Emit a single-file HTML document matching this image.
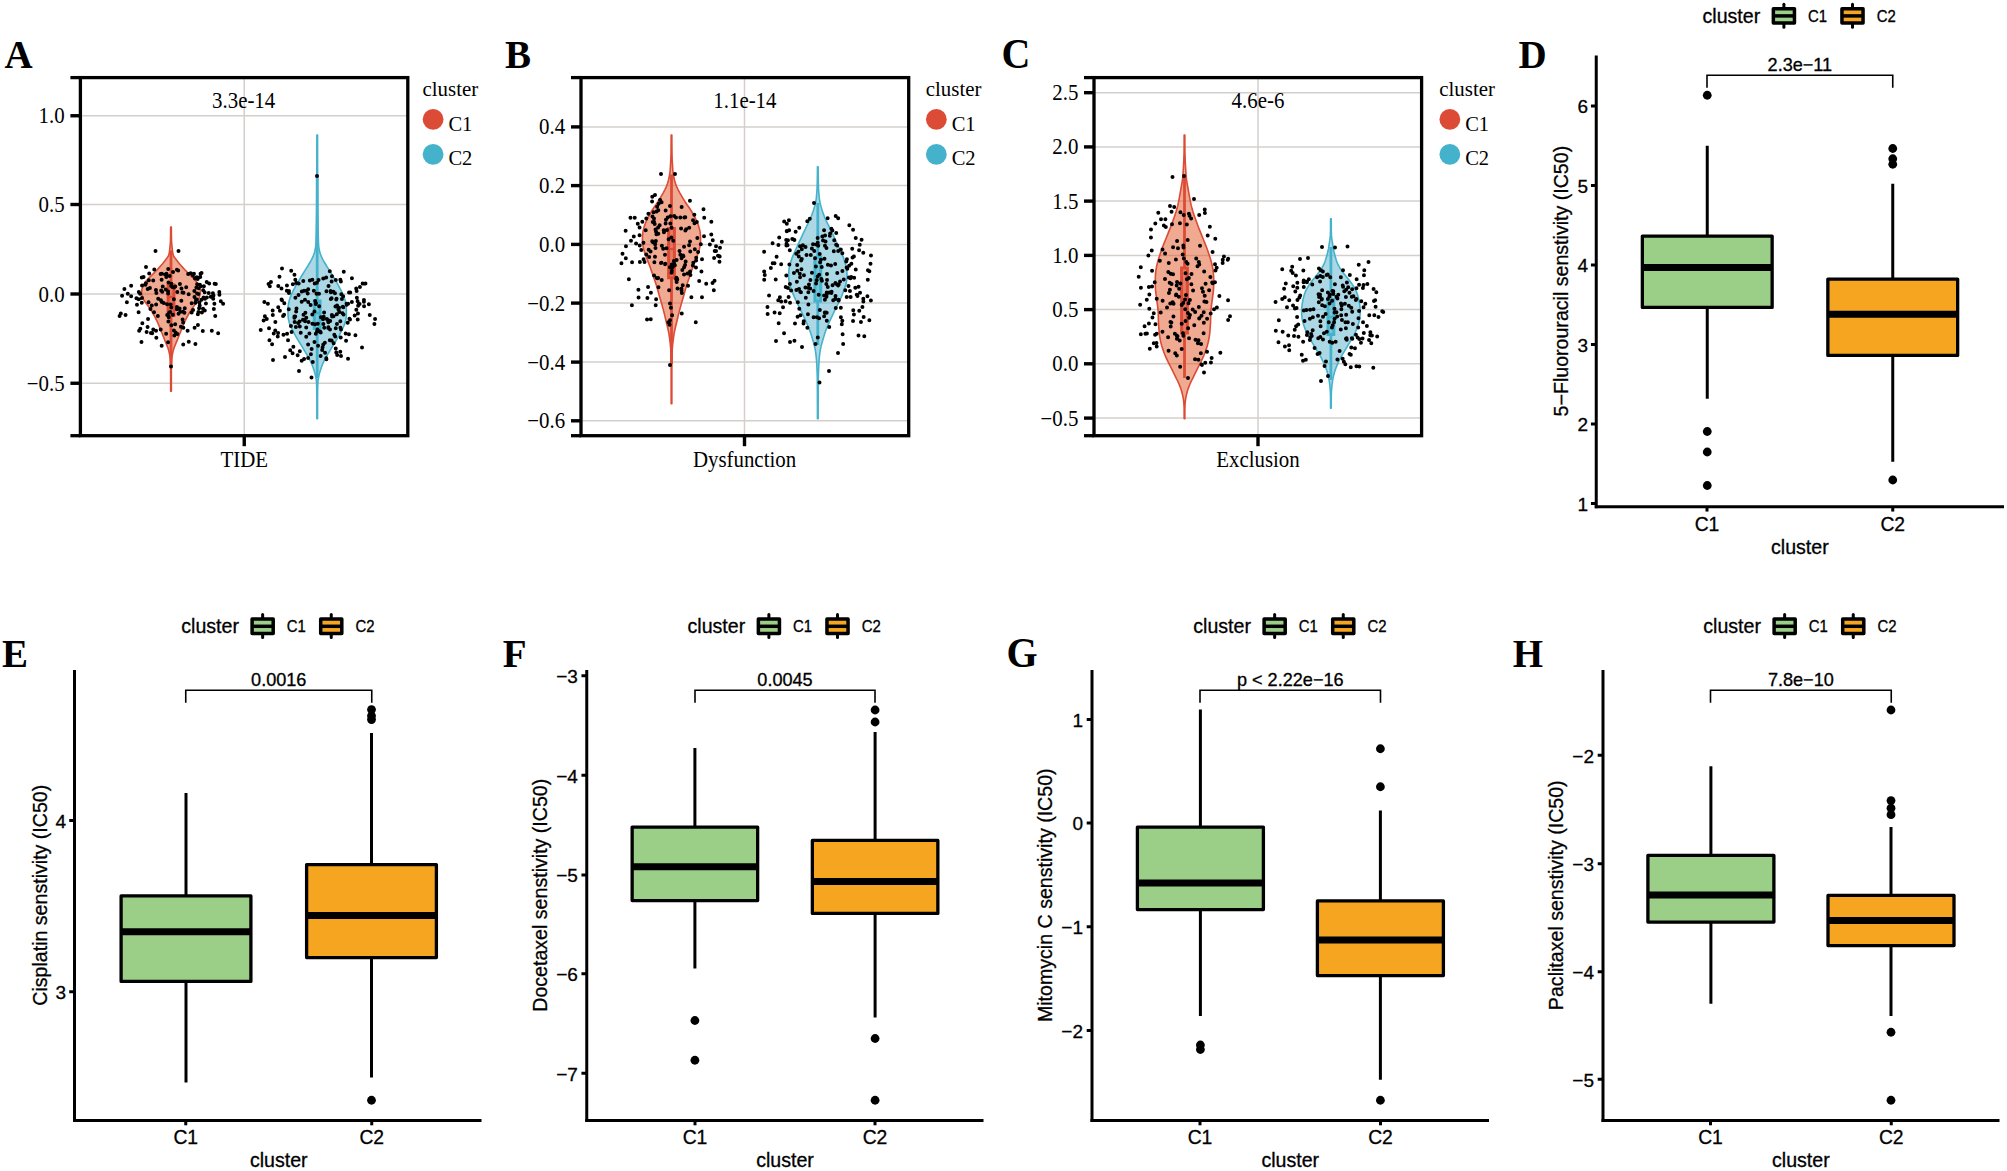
<!DOCTYPE html>
<html lang="en"><head><meta charset="utf-8"><title>Figure</title>
<style>
html,body{margin:0;padding:0;background:#fff;}
body{width:2007px;height:1171px;overflow:hidden;}
svg{display:block;}
.sf{font-family:"Liberation Serif","Times New Roman",Times,serif;fill:#000;}
.ss{font-family:"Liberation Sans",Arial,Helvetica,sans-serif;fill:#000;stroke:#000;stroke-width:0.3px;}
</style></head><body>
<svg width="2007" height="1171" viewBox="0 0 2007 1171">
<rect width="2007" height="1171" fill="#fff"/>
<line x1="80.4" y1="115.75" x2="407.8" y2="115.75" stroke="#D4CFCB" stroke-width="1.5" stroke-linecap="butt" />
<line x1="80.4" y1="204.5" x2="407.8" y2="204.5" stroke="#D4CFCB" stroke-width="1.5" stroke-linecap="butt" />
<line x1="80.4" y1="294" x2="407.8" y2="294" stroke="#D4CFCB" stroke-width="1.5" stroke-linecap="butt" />
<line x1="80.4" y1="383.25" x2="407.8" y2="383.25" stroke="#D4CFCB" stroke-width="1.5" stroke-linecap="butt" />
<line x1="244.25" y1="77.6" x2="244.25" y2="435.7" stroke="#D4CFCB" stroke-width="1.5" stroke-linecap="butt" />
<path d="M170.65,227 L170.65,228.85 L170.64,230.69 L170.62,232.54 L170.6,234.38 L170.57,236.23 L170.54,238.07 L170.5,239.92 L170.43,241.76 L170.3,243.61 L170.12,245.46 L169.93,247.3 L169.73,249.15 L169.53,250.99 L169.27,252.84 L168.9,254.68 L168.11,256.53 L166.8,258.37 L165.32,260.22 L163.91,262.06 L162.39,263.91 L160.79,265.76 L159.14,267.6 L157.43,269.45 L155.66,271.29 L153.86,273.14 L151.99,274.98 L150.04,276.83 L148.21,278.67 L146.63,280.52 L145.12,282.37 L143.82,284.21 L142.95,286.06 L142.34,287.9 L141.86,289.75 L141.61,291.59 L141.69,293.44 L142.06,295.28 L142.61,297.13 L143.27,298.97 L144.34,300.82 L145.69,302.67 L147.04,304.51 L148.32,306.36 L149.65,308.2 L150.92,310.05 L152.07,311.89 L153.13,313.74 L154.15,315.58 L155.13,317.43 L156.08,319.28 L156.99,321.12 L157.85,322.97 L158.64,324.81 L159.38,326.66 L160.1,328.5 L160.84,330.35 L161.59,332.19 L162.33,334.04 L163.07,335.88 L163.81,337.73 L164.54,339.58 L165.27,341.42 L166.03,343.27 L166.82,345.11 L167.57,346.96 L168.19,348.8 L168.72,350.65 L169.19,352.49 L169.57,354.34 L169.89,356.19 L170.17,358.03 L170.36,359.88 L170.43,361.72 L170.49,363.57 L170.54,365.41 L170.58,367.26 L170.61,369.1 L170.63,370.95 L170.64,372.79 L170.65,374.64 L170.65,376.49 L170.65,378.33 L170.65,380.18 L170.65,382.02 L170.65,383.87 L170.65,385.71 L170.65,387.56 L170.65,389.4 L170.65,391.25 L171.35,391.25 L171.35,389.4 L171.35,387.56 L171.35,385.71 L171.35,383.87 L171.35,382.02 L171.35,380.18 L171.35,378.33 L171.35,376.49 L171.35,374.64 L171.36,372.79 L171.37,370.95 L171.39,369.1 L171.42,367.26 L171.46,365.41 L171.51,363.57 L171.57,361.72 L171.64,359.88 L171.83,358.03 L172.11,356.19 L172.43,354.34 L172.81,352.49 L173.28,350.65 L173.81,348.8 L174.43,346.96 L175.18,345.11 L175.97,343.27 L176.73,341.42 L177.46,339.58 L178.19,337.73 L178.93,335.88 L179.67,334.04 L180.41,332.19 L181.16,330.35 L181.9,328.5 L182.62,326.66 L183.36,324.81 L184.15,322.97 L185.01,321.12 L185.92,319.28 L186.87,317.43 L187.85,315.58 L188.87,313.74 L189.93,311.89 L191.08,310.05 L192.35,308.2 L193.68,306.36 L194.96,304.51 L196.31,302.67 L197.66,300.82 L198.73,298.97 L199.39,297.13 L199.94,295.28 L200.31,293.44 L200.39,291.59 L200.14,289.75 L199.66,287.9 L199.05,286.06 L198.18,284.21 L196.88,282.37 L195.37,280.52 L193.79,278.67 L191.96,276.83 L190.01,274.98 L188.14,273.14 L186.34,271.29 L184.57,269.45 L182.86,267.6 L181.21,265.76 L179.61,263.91 L178.09,262.06 L176.68,260.22 L175.2,258.37 L173.89,256.53 L173.1,254.68 L172.73,252.84 L172.47,250.99 L172.27,249.15 L172.07,247.3 L171.88,245.46 L171.7,243.61 L171.57,241.76 L171.5,239.92 L171.46,238.07 L171.43,236.23 L171.4,234.38 L171.38,232.54 L171.36,230.69 L171.35,228.85 L171.35,227Z" fill="#E35525" fill-opacity="0.5" stroke="#DC4B35" stroke-width="1.6" stroke-linejoin="round"/>
<line x1="171" y1="250.5" x2="171" y2="285" stroke="#DC4B35" stroke-width="2.8" stroke-linecap="butt" />
<line x1="171" y1="315.5" x2="171" y2="366.5" stroke="#DC4B35" stroke-width="2.8" stroke-linecap="butt" />
<rect x="168.1" y="285" width="5.8" height="30.5" fill="#DC4B35" fill-opacity="0.5" stroke="#DC4B35" stroke-width="3"/>
<line x1="168.1" y1="297" x2="173.9" y2="297" stroke="#DC4B35" stroke-width="2.4" stroke-linecap="butt" />
<path d="M316.85,135 L316.85,138.19 L316.85,141.38 L316.85,144.56 L316.84,147.75 L316.84,150.94 L316.84,154.13 L316.83,157.32 L316.83,160.51 L316.82,163.69 L316.81,166.88 L316.8,170.07 L316.8,173.26 L316.79,176.45 L316.78,179.63 L316.77,182.82 L316.76,186.01 L316.74,189.2 L316.73,192.39 L316.72,195.58 L316.71,198.76 L316.69,201.95 L316.67,205.14 L316.64,208.33 L316.6,211.52 L316.56,214.71 L316.51,217.89 L316.45,221.08 L316.39,224.27 L316.32,227.46 L316.25,230.65 L316.17,233.83 L316.08,237.02 L315.99,240.21 L315.87,243.4 L315.67,246.59 L315.15,249.78 L314.37,252.96 L313.18,256.15 L311.69,259.34 L309.92,262.53 L308,265.72 L305.96,268.9 L303.96,272.09 L302.06,275.28 L300.14,278.47 L298.16,281.66 L296.29,284.85 L294.55,288.03 L292.95,291.22 L291.48,294.41 L290.23,297.6 L289.15,300.79 L288.5,303.97 L288.06,307.16 L288,310.35 L288,313.54 L288.11,316.73 L288.59,319.92 L289.38,323.1 L290.67,326.29 L292.1,329.48 L293.75,332.67 L295.53,335.86 L297.45,339.04 L299.38,342.23 L301.35,345.42 L303.26,348.61 L305.16,351.8 L307.14,354.99 L309.03,358.17 L310.58,361.36 L311.94,364.55 L313.16,367.74 L314.21,370.93 L315.12,374.12 L315.82,377.3 L316.34,380.49 L316.61,383.68 L316.69,386.87 L316.76,390.06 L316.81,393.24 L316.84,396.43 L316.85,399.62 L316.85,402.81 L316.85,406 L316.85,409.19 L316.85,412.37 L316.85,415.56 L316.85,418.75 L317.55,418.75 L317.55,415.56 L317.55,412.37 L317.55,409.19 L317.55,406 L317.55,402.81 L317.55,399.62 L317.56,396.43 L317.59,393.24 L317.64,390.06 L317.71,386.87 L317.79,383.68 L318.06,380.49 L318.58,377.3 L319.28,374.12 L320.19,370.93 L321.24,367.74 L322.46,364.55 L323.82,361.36 L325.37,358.17 L327.26,354.99 L329.24,351.8 L331.14,348.61 L333.05,345.42 L335.02,342.23 L336.95,339.04 L338.87,335.86 L340.65,332.67 L342.3,329.48 L343.73,326.29 L345.02,323.1 L345.81,319.92 L346.29,316.73 L346.4,313.54 L346.4,310.35 L346.34,307.16 L345.9,303.97 L345.25,300.79 L344.17,297.6 L342.92,294.41 L341.45,291.22 L339.85,288.03 L338.11,284.85 L336.24,281.66 L334.26,278.47 L332.34,275.28 L330.44,272.09 L328.44,268.9 L326.4,265.72 L324.48,262.53 L322.71,259.34 L321.22,256.15 L320.03,252.96 L319.25,249.78 L318.73,246.59 L318.53,243.4 L318.41,240.21 L318.32,237.02 L318.23,233.83 L318.15,230.65 L318.08,227.46 L318.01,224.27 L317.95,221.08 L317.89,217.89 L317.84,214.71 L317.8,211.52 L317.76,208.33 L317.73,205.14 L317.71,201.95 L317.69,198.76 L317.68,195.58 L317.67,192.39 L317.66,189.2 L317.64,186.01 L317.63,182.82 L317.62,179.63 L317.61,176.45 L317.6,173.26 L317.6,170.07 L317.59,166.88 L317.58,163.69 L317.57,160.51 L317.57,157.32 L317.56,154.13 L317.56,150.94 L317.56,147.75 L317.55,144.56 L317.55,141.38 L317.55,138.19 L317.55,135Z" fill="#59B1CD" fill-opacity="0.5" stroke="#45B2CC" stroke-width="1.6" stroke-linejoin="round"/>
<line x1="317.2" y1="176" x2="317.2" y2="301" stroke="#45B2CC" stroke-width="2.8" stroke-linecap="butt" />
<line x1="317.2" y1="328.5" x2="317.2" y2="378" stroke="#45B2CC" stroke-width="2.8" stroke-linecap="butt" />
<rect x="314.3" y="301" width="5.8" height="27.5" fill="#45B2CC" fill-opacity="0.5" stroke="#45B2CC" stroke-width="3"/>
<line x1="314.3" y1="313" x2="320.1" y2="313" stroke="#45B2CC" stroke-width="2.4" stroke-linecap="butt" />
<path d="M191.66,303.29h0M178.51,313.82h0M165.72,275.34h0M119.59,316.01h0M179.6,308.49h0M142.34,323.21h0M183.35,327.77h0M177.36,334.09h0M200.52,273.7h0M198.35,293.94h0M169.66,275.88h0M163.73,302.9h0M143.58,277.09h0M211.8,330.67h0M199.91,284.63h0M161.76,273.73h0M194.47,296.99h0M174.32,335.59h0M196.38,287.46h0M125.55,315.08h0M175.28,286.6h0M194.36,290.89h0M215.24,315.92h0M124.41,289h0M184.41,312.63h0M120.81,313.59h0M151.8,305.61h0M204.78,310.6h0M213.49,295.44h0M169.15,312.68h0M126.88,302.36h0M167.21,314.9h0M149.91,287.95h0M182.59,319.48h0M209.17,283.48h0M141.99,297.98h0M165.77,289.59h0M160.89,300.29h0M166.46,273.82h0M201.9,312.51h0M205.94,303.48h0M195.51,302.83h0M168.37,321.39h0M136.98,304.83h0M183.13,322.39h0M175.19,324.35h0M206.83,297.39h0M167.12,304.17h0M208.71,292.99h0M199.43,302.39h0M202.79,331.11h0M153.26,329.46h0M141.47,342.03h0M183,311.68h0M197.11,284.24h0M171.34,283.68h0M173.86,299.25h0M190.64,273.14h0M147.71,289h0M183.5,292.74h0M140.33,328.78h0M156.41,293.12h0M141.76,277.58h0M161.82,302.07h0M179.91,283.93h0M203.91,286.15h0M182.47,292.57h0M195.02,278.45h0M160.69,329.61h0M214.61,283.67h0M171.3,307.44h0M149.22,273.5h0M138.59,312.36h0M192.92,275.43h0M168.1,293.49h0M166.12,333.85h0M145.98,283.22h0M196.81,299.55h0M198.69,288.14h0M201.46,299.64h0M194.6,327.69h0M170.7,304.57h0M171.21,286.1h0M191.64,312.43h0M183.23,344.45h0M138.72,299.32h0M174.07,287.57h0M160.63,273.94h0M153.23,280.47h0M181.37,300.81h0M148.05,319.1h0M188.76,341.67h0M195.41,343.91h0M166.3,276.98h0M176.87,309.19h0M181.47,288.45h0M171.35,325.27h0M168.7,316.75h0M197.86,314.15h0M168.73,317.23h0M193.94,273.8h0M145.36,284.63h0M197.09,293.38h0M210.77,296.8h0M170.16,312.01h0M188.18,273.93h0M155.93,290.07h0M196.86,277.16h0M156.01,330.64h0M156.34,337.79h0M158.21,298.86h0M198.45,311.9h0M176.92,269.73h0M201.53,273h0M165.15,274.61h0M186.21,287.15h0M204.95,298.76h0M193.06,309.91h0M203.04,308.86h0M220.79,301.15h0M200.25,276.96h0M214.39,303.78h0M168.49,282.39h0M142.04,285.47h0M204.62,292.31h0M219.44,294.68h0M173.92,330.51h0M162.74,286.53h0M148.81,280.27h0M184.76,308.26h0M161.61,279.75h0M146.61,332.12h0M199.73,305.45h0M162.2,291.68h0M175.6,332.45h0M150.94,332.9h0M156.13,304.44h0M213.22,298.75h0M168.22,268.96h0M223.11,303.73h0M157.85,316.05h0M188.67,294.32h0M197.92,325.05h0M127.78,293.87h0M206.71,282.03h0M131.16,285.67h0M199.29,307.9h0M140.06,293.85h0M154.28,269.45h0M203.53,297.45h0M197.65,279.06h0M218.16,333.17h0M172.39,287.08h0M131.15,296.17h0M180.21,311.74h0M161.17,290.51h0M177.32,292h0M139.15,330.7h0M136.41,298.14h0M154.02,312.31h0M172.87,314.81h0M195.97,299.9h0M213.85,308.95h0M180.9,326.65h0M141.78,302.86h0M150.47,309.05h0M187.61,330.81h0M212.88,293.33h0M122.08,295.81h0M219.29,292.01h0M215.8,284.11h0M152.15,333.36h0M161.67,345.64h0M173.05,271.9h0M138.83,291.96h0M211.75,297.06h0M168.03,291.47h0M148.54,302.35h0M203.14,290.19h0M147.58,326.94h0M178.17,270.62h0M176.94,306.99h0M199.07,308.31h0M168.08,342.22h0M200.66,286.36h0M155.5,251h0M178.5,251h0M146,267h0M171,366.5h0" stroke="#000" stroke-width="4" stroke-linecap="round" fill="none"/>
<path d="M336.84,314.14h0M346.76,304.85h0M275.35,321.91h0M310.91,354.26h0M357.6,301.34h0M308.14,358.04h0M340.43,327.8h0M318.07,345.86h0M358.13,305.77h0M320.34,331.71h0M309.81,280.59h0M332.11,316.5h0M304.01,290.66h0M340.32,321.15h0M264.34,302.01h0M343.15,296.22h0M346.53,303.87h0M298.53,294.95h0M323.68,316.83h0M317.47,329.47h0M292.58,353.17h0M283.46,334.73h0M273.74,333.55h0M349.03,292.43h0M346.07,340.72h0M323.35,323.96h0M302.98,319.75h0M330.81,299.03h0M340.87,281.6h0M339.06,307.84h0M341.92,299.06h0M315.76,304h0M291.58,332.07h0M291.2,270.72h0M295.19,316.6h0M335.75,348.39h0M326.44,291.16h0M299.53,321.51h0M294.45,316.49h0M263.62,320.62h0M364.07,306.18h0M330,329.61h0M306.21,327.46h0M278.24,307.16h0M284.32,303.37h0M362.02,347.47h0M359.94,287.12h0M315.79,333.7h0M323.27,344.47h0M319.17,306.13h0M338.53,309.7h0M270.96,282.03h0M334.96,293.21h0M326.29,358.31h0M308.18,289.21h0M350.22,292.48h0M348.09,303.69h0M329.79,271.17h0M331.59,340.43h0M331.88,315.1h0M301.81,291.44h0M307.72,293.45h0M328.51,286.07h0M336.55,298.81h0M305.37,312.77h0M368.88,304.14h0M319.06,331.15h0M320.74,332.46h0M300.73,332.66h0M333.44,291.69h0M312.3,314.53h0M342.58,313.28h0M326.87,318.92h0M277.74,336.43h0M288.78,309.14h0M294.46,274.69h0M322.6,347.37h0M362.63,283.59h0M323.06,319.14h0M305.07,321.3h0M318.56,280.1h0M260.74,329.9h0M343.3,307.21h0M330.16,321.12h0M375.07,319.08h0M349.44,318.75h0M267.88,303.79h0M301.68,360.73h0M357.72,319.55h0M313.85,290.77h0M355.43,335.2h0M269.42,340.27h0M316.03,303.29h0M347.71,322.66h0M295.39,297.78h0M336.25,299.58h0M331.95,276.13h0M279.92,310.66h0M284.08,314.64h0M343.55,314.56h0M357.98,313.51h0M278.1,333.05h0M292.84,284.35h0M309.4,333.62h0M275.2,330.46h0M282,300.16h0M272.82,315.08h0M299.79,326.62h0M283.07,316.08h0M288.96,293.02h0M356.32,309.67h0M272.67,310.46h0M296.34,283.08h0M297.64,355.18h0M326.19,277.43h0M303.28,281.06h0M340.28,351.71h0M340.34,279.85h0M335.43,306.53h0M325.05,352.63h0M293.37,346.85h0M299.81,351.24h0M269.83,286.17h0M312.75,361.98h0M308.21,301.96h0M356.65,291.09h0M327.7,319.79h0M323.25,278.45h0M316.88,282.75h0M268.55,284h0M286.94,285.41h0M336.96,323.94h0M329.87,320.92h0M314.47,341.88h0M266.75,318.92h0M324.24,327.64h0M306.74,290.79h0M345.62,333.48h0M333.62,343.36h0M335.76,328.3h0M340.95,329.45h0M314.7,283.48h0M331.64,281.5h0M272.09,344.25h0M312.34,279.71h0M287.07,333.8h0M354.66,315.44h0M269.02,328.25h0M288.02,340.29h0M264.87,316.18h0M369.76,315.05h0M330.87,292.3h0M294.4,317.85h0M314.45,311.5h0M329.81,340.13h0M328.38,327.16h0M295.29,279.69h0M338.36,308.98h0M342.83,306.78h0M348.9,334.31h0M314.98,324.23h0M326.43,359.2h0M363.93,300.09h0M290.91,325.94h0M319,293.87h0M281.49,288.42h0M317.78,323.64h0M324.1,312.57h0M331.59,298.36h0M296.51,308.52h0M295.88,327.08h0M296.16,311.48h0M324.85,342.81h0M304.96,299.63h0M306.24,336.65h0M308.55,321.92h0M310.63,305.12h0M335.8,279.9h0M322.16,350.05h0M333.54,316.13h0M330.63,291.11h0M340.72,337.62h0M348.05,358.8h0M363.92,301.78h0M351.92,278.29h0M298.21,322.96h0M316.97,331.54h0M343.76,271.84h0M337.02,305.61h0M359.57,303.89h0M294.63,322.06h0M286.83,290.78h0M374.4,323.89h0M335.18,336.38h0M320.97,317.27h0M308.12,344.45h0M337.21,354.89h0M350,319.44h0M328.33,322.36h0M336.29,352.38h0M356.86,297.68h0M316.54,293.67h0M351.87,301.91h0M281.54,299.58h0M339.44,312h0M278.3,286.04h0M279.49,276.83h0M288.96,291.11h0M311.64,348.98h0M328.12,321.67h0M365.48,283.58h0M306.29,317.8h0M320.65,356.09h0M301.66,301.71h0M290.22,350.21h0M303.52,314.65h0M334.31,334.79h0M328.28,328.08h0M315.19,301.09h0M356.18,288.59h0M312.44,323.79h0M304.07,358.9h0M298.68,283.4h0M358.58,304.8h0M341.32,294.16h0M317,176h0M282,268.5h0M273,360h0M285,357h0M299,371h0M311.5,377.5h0M341,356h0" stroke="#000" stroke-width="4" stroke-linecap="round" fill="none"/>
<rect x="80.4" y="77.6" width="327.4" height="358.1" fill="none" stroke="#000" stroke-width="3.3"/>
<line x1="70.4" y1="77.6" x2="80.4" y2="77.6" stroke="#000" stroke-width="3.3" stroke-linecap="butt" />
<line x1="70.4" y1="435.7" x2="80.4" y2="435.7" stroke="#000" stroke-width="3.3" stroke-linecap="butt" />
<line x1="70.4" y1="115.75" x2="80.4" y2="115.75" stroke="#000" stroke-width="3.4" stroke-linecap="butt" />
<text class="sf" transform="translate(64.7 123.25) scale(1 1.07)" font-size="20.9" text-anchor="end">1.0</text>
<line x1="70.4" y1="204.5" x2="80.4" y2="204.5" stroke="#000" stroke-width="3.4" stroke-linecap="butt" />
<text class="sf" transform="translate(64.7 212) scale(1 1.07)" font-size="20.9" text-anchor="end">0.5</text>
<line x1="70.4" y1="294" x2="80.4" y2="294" stroke="#000" stroke-width="3.4" stroke-linecap="butt" />
<text class="sf" transform="translate(64.7 301.5) scale(1 1.07)" font-size="20.9" text-anchor="end">0.0</text>
<line x1="70.4" y1="383.25" x2="80.4" y2="383.25" stroke="#000" stroke-width="3.4" stroke-linecap="butt" />
<text class="sf" transform="translate(64.7 390.75) scale(1 1.07)" font-size="20.9" text-anchor="end">−0.5</text>
<line x1="244.25" y1="435.7" x2="244.25" y2="446.2" stroke="#000" stroke-width="3.4" stroke-linecap="butt" />
<text class="sf" transform="translate(244.25 466.8) scale(1 1.07)" font-size="20.9" text-anchor="middle">TIDE</text>
<text class="sf" transform="translate(243.65 108.1) scale(1 1.07)" font-size="20.9" text-anchor="middle">3.3e-14</text>
<text class="sf" transform="translate(4.6 68.2) scale(1 1.04)" font-size="39" font-weight="bold">A</text>
<text class="sf" x="422.5" y="95.5" font-size="20.9">cluster</text>
<circle cx="433.1" cy="119.4" r="10.4" fill="#DC4B35"/>
<circle cx="433.1" cy="154.4" r="10.4" fill="#45B2CC"/>
<text class="sf" x="448.4" y="130.5" font-size="20.5">C1</text>
<text class="sf" x="448.4" y="165.3" font-size="20.5">C2</text>
<line x1="581" y1="126.9" x2="908.7" y2="126.9" stroke="#D4CFCB" stroke-width="1.5" stroke-linecap="butt" />
<line x1="581" y1="185.6" x2="908.7" y2="185.6" stroke="#D4CFCB" stroke-width="1.5" stroke-linecap="butt" />
<line x1="581" y1="244.4" x2="908.7" y2="244.4" stroke="#D4CFCB" stroke-width="1.5" stroke-linecap="butt" />
<line x1="581" y1="303.1" x2="908.7" y2="303.1" stroke="#D4CFCB" stroke-width="1.5" stroke-linecap="butt" />
<line x1="581" y1="362.1" x2="908.7" y2="362.1" stroke="#D4CFCB" stroke-width="1.5" stroke-linecap="butt" />
<line x1="581" y1="420.8" x2="908.7" y2="420.8" stroke="#D4CFCB" stroke-width="1.5" stroke-linecap="butt" />
<line x1="744.5" y1="77.6" x2="744.5" y2="435.7" stroke="#D4CFCB" stroke-width="1.5" stroke-linecap="butt" />
<path d="M671.15,135 L671.15,138.02 L671.14,141.04 L671.12,144.06 L671.09,147.08 L671.06,150.1 L671.03,153.12 L670.98,156.14 L670.85,159.16 L670.67,162.18 L670.49,165.2 L670.32,168.22 L670.1,171.24 L669.7,174.26 L669.14,177.28 L668.48,180.29 L667.62,183.31 L666.48,186.33 L665.07,189.35 L663.5,192.37 L661.77,195.39 L659.99,198.41 L658.12,201.43 L656.09,204.45 L653.95,207.47 L652,210.49 L650.18,213.51 L648.52,216.53 L647,219.55 L645.68,222.57 L644.52,225.59 L643.65,228.61 L642.96,231.63 L642.62,234.65 L642.44,237.67 L642.42,240.69 L642.69,243.71 L643.12,246.73 L643.84,249.75 L644.74,252.77 L645.78,255.79 L646.92,258.81 L648.12,261.83 L649.32,264.85 L650.41,267.87 L651.46,270.88 L652.49,273.9 L653.51,276.92 L654.57,279.94 L655.62,282.96 L656.59,285.98 L657.5,289 L658.32,292.02 L659.09,295.04 L659.95,298.06 L660.88,301.08 L661.75,304.1 L662.58,307.12 L663.38,310.14 L664.16,313.16 L664.91,316.18 L665.63,319.2 L666.35,322.22 L667.09,325.24 L667.79,328.26 L668.46,331.28 L669.02,334.3 L669.46,337.32 L669.86,340.34 L670.23,343.36 L670.52,346.38 L670.75,349.4 L670.9,352.42 L671,355.44 L671.07,358.46 L671.13,361.47 L671.15,364.49 L671.15,367.51 L671.15,370.53 L671.15,373.55 L671.15,376.57 L671.15,379.59 L671.15,382.61 L671.15,385.63 L671.15,388.65 L671.15,391.67 L671.15,394.69 L671.15,397.71 L671.15,400.73 L671.15,403.75 L671.85,403.75 L671.85,400.73 L671.85,397.71 L671.85,394.69 L671.85,391.67 L671.85,388.65 L671.85,385.63 L671.85,382.61 L671.85,379.59 L671.85,376.57 L671.85,373.55 L671.85,370.53 L671.85,367.51 L671.85,364.49 L671.87,361.47 L671.93,358.46 L672,355.44 L672.1,352.42 L672.25,349.4 L672.48,346.38 L672.77,343.36 L673.14,340.34 L673.54,337.32 L673.98,334.3 L674.54,331.28 L675.21,328.26 L675.91,325.24 L676.65,322.22 L677.37,319.2 L678.09,316.18 L678.84,313.16 L679.62,310.14 L680.42,307.12 L681.25,304.1 L682.12,301.08 L683.05,298.06 L683.91,295.04 L684.68,292.02 L685.5,289 L686.41,285.98 L687.38,282.96 L688.43,279.94 L689.49,276.92 L690.51,273.9 L691.54,270.88 L692.59,267.87 L693.68,264.85 L694.88,261.83 L696.08,258.81 L697.22,255.79 L698.26,252.77 L699.16,249.75 L699.88,246.73 L700.31,243.71 L700.58,240.69 L700.56,237.67 L700.38,234.65 L700.04,231.63 L699.35,228.61 L698.48,225.59 L697.32,222.57 L696,219.55 L694.48,216.53 L692.82,213.51 L691,210.49 L689.05,207.47 L686.91,204.45 L684.88,201.43 L683.01,198.41 L681.23,195.39 L679.5,192.37 L677.93,189.35 L676.52,186.33 L675.38,183.31 L674.52,180.29 L673.86,177.28 L673.3,174.26 L672.9,171.24 L672.68,168.22 L672.51,165.2 L672.33,162.18 L672.15,159.16 L672.02,156.14 L671.97,153.12 L671.94,150.1 L671.91,147.08 L671.88,144.06 L671.86,141.04 L671.85,138.02 L671.85,135Z" fill="#E35525" fill-opacity="0.5" stroke="#DC4B35" stroke-width="1.6" stroke-linejoin="round"/>
<line x1="671.5" y1="174.5" x2="671.5" y2="228.6" stroke="#DC4B35" stroke-width="2.8" stroke-linecap="butt" />
<line x1="671.5" y1="277.8" x2="671.5" y2="364" stroke="#DC4B35" stroke-width="2.8" stroke-linecap="butt" />
<rect x="668.6" y="228.6" width="5.8" height="49.2" fill="#DC4B35" fill-opacity="0.5" stroke="#DC4B35" stroke-width="3"/>
<line x1="668.6" y1="249" x2="674.4" y2="249" stroke="#DC4B35" stroke-width="2.4" stroke-linecap="butt" />
<path d="M817.45,166.75 L817.44,169.58 L817.42,172.41 L817.39,175.24 L817.34,178.08 L817.29,180.91 L817.23,183.74 L817.15,186.57 L817.01,189.4 L816.82,192.23 L816.59,195.06 L816.33,197.9 L815.97,200.73 L815.41,203.56 L814.62,206.39 L813.79,209.22 L812.88,212.05 L811.86,214.88 L810.74,217.72 L809.51,220.55 L808.12,223.38 L806.69,226.21 L805.32,229.04 L803.95,231.87 L802.61,234.71 L801.29,237.54 L799.98,240.37 L798.68,243.2 L797.39,246.03 L796.11,248.86 L794.83,251.69 L793.49,254.53 L792.28,257.36 L791.3,260.19 L790.46,263.02 L789.68,265.85 L789.04,268.68 L788.77,271.51 L788.63,274.35 L788.63,277.18 L788.88,280.01 L789.29,282.84 L790.1,285.67 L791.1,288.5 L792.08,291.33 L793.15,294.17 L794.34,297 L795.65,299.83 L796.99,302.66 L798.36,305.49 L799.75,308.32 L801.16,311.15 L802.53,313.99 L803.87,316.82 L805.18,319.65 L806.44,322.48 L807.65,325.31 L808.83,328.14 L809.96,330.97 L810.93,333.81 L811.78,336.64 L812.62,339.47 L813.47,342.3 L814.23,345.13 L814.91,347.96 L815.43,350.79 L815.83,353.63 L816.15,356.46 L816.41,359.29 L816.63,362.12 L816.8,364.95 L816.93,367.78 L817.05,370.62 L817.16,373.45 L817.24,376.28 L817.29,379.11 L817.31,381.94 L817.34,384.77 L817.35,387.6 L817.37,390.44 L817.39,393.27 L817.4,396.1 L817.41,398.93 L817.42,401.76 L817.43,404.59 L817.44,407.42 L817.44,410.26 L817.45,413.09 L817.45,415.92 L817.45,418.75 L818.15,418.75 L818.15,415.92 L818.15,413.09 L818.16,410.26 L818.16,407.42 L818.17,404.59 L818.18,401.76 L818.19,398.93 L818.2,396.1 L818.21,393.27 L818.23,390.44 L818.25,387.6 L818.26,384.77 L818.29,381.94 L818.31,379.11 L818.36,376.28 L818.44,373.45 L818.55,370.62 L818.67,367.78 L818.8,364.95 L818.97,362.12 L819.19,359.29 L819.45,356.46 L819.77,353.63 L820.17,350.79 L820.69,347.96 L821.37,345.13 L822.13,342.3 L822.98,339.47 L823.82,336.64 L824.67,333.81 L825.64,330.97 L826.77,328.14 L827.95,325.31 L829.16,322.48 L830.42,319.65 L831.73,316.82 L833.07,313.99 L834.44,311.15 L835.85,308.32 L837.24,305.49 L838.61,302.66 L839.95,299.83 L841.26,297 L842.45,294.17 L843.52,291.33 L844.5,288.5 L845.5,285.67 L846.31,282.84 L846.72,280.01 L846.97,277.18 L846.97,274.35 L846.83,271.51 L846.56,268.68 L845.92,265.85 L845.14,263.02 L844.3,260.19 L843.32,257.36 L842.11,254.53 L840.77,251.69 L839.49,248.86 L838.21,246.03 L836.92,243.2 L835.62,240.37 L834.31,237.54 L832.99,234.71 L831.65,231.87 L830.28,229.04 L828.91,226.21 L827.48,223.38 L826.09,220.55 L824.86,217.72 L823.74,214.88 L822.72,212.05 L821.81,209.22 L820.98,206.39 L820.19,203.56 L819.63,200.73 L819.27,197.9 L819.01,195.06 L818.78,192.23 L818.59,189.4 L818.45,186.57 L818.37,183.74 L818.31,180.91 L818.26,178.08 L818.21,175.24 L818.18,172.41 L818.16,169.58 L818.15,166.75Z" fill="#59B1CD" fill-opacity="0.5" stroke="#45B2CC" stroke-width="1.6" stroke-linejoin="round"/>
<line x1="817.8" y1="203" x2="817.8" y2="257.3" stroke="#45B2CC" stroke-width="2.8" stroke-linecap="butt" />
<line x1="817.8" y1="301" x2="817.8" y2="345" stroke="#45B2CC" stroke-width="2.8" stroke-linecap="butt" />
<rect x="814.9" y="257.3" width="5.8" height="43.7" fill="#45B2CC" fill-opacity="0.5" stroke="#45B2CC" stroke-width="3"/>
<line x1="814.9" y1="280" x2="820.7" y2="280" stroke="#45B2CC" stroke-width="2.4" stroke-linecap="butt" />
<path d="M685.27,217.28h0M644.58,262.11h0M701.46,271.51h0M654.05,275.45h0M674.19,215.97h0M669.94,267.21h0M670.93,307.7h0M669.09,290.14h0M663.19,248.84h0M661.88,245.87h0M676.64,259.99h0M684.01,274.55h0M655.85,240.92h0M703.5,209.32h0M709.87,244.45h0M625.82,258.33h0M641.28,250.12h0M696.21,257.79h0M679.52,250.96h0M655.97,231.6h0M690.08,271.38h0M653.58,212.32h0M675.98,217.42h0M647.4,298h0M646.3,218.61h0M652.06,201.41h0M673.89,260.9h0M685.64,261.56h0M665.3,263.83h0M721.81,241.82h0M622.52,253.8h0M661.45,262.75h0M698.1,251.98h0M664.98,254.82h0M670.05,320.24h0M671.53,227.64h0M652.3,196.82h0M684.05,267.37h0M718.01,255.64h0M668.57,239.25h0M671.44,237.55h0M653.98,221.78h0M683.44,256.24h0M639.72,245.62h0M648.06,286.89h0M646.25,254.58h0M661.6,202.34h0M693.01,220.29h0M654.98,256.77h0M711.29,234.44h0M639.86,262.02h0M689.94,200.79h0M692.85,265.47h0M665.63,223.57h0M653.95,218.46h0M706.2,283.65h0M716.05,246.33h0M690.01,241.4h0M695.98,267.58h0M657.12,206.68h0M643.45,242.73h0M694.49,223.2h0M654.38,262.3h0M661.72,279.95h0M645.71,230.25h0M684.04,246.78h0M669.53,324.7h0M681.54,258.29h0M683.08,255.53h0M700.82,244.36h0M711.34,221.64h0M676.4,277.74h0M656.43,234.16h0M654.68,224.1h0M671.56,272.71h0M656.82,278.07h0M658.1,278.01h0M680.35,254.69h0M702.01,259.22h0M637.76,223.79h0M631.9,305.31h0M666.54,248.28h0M681.64,206.96h0M621.43,263.13h0M691.38,297.24h0M671.81,270.78h0M671.75,264.45h0M625.95,246.22h0M697.35,237.9h0M665.64,210.46h0M649.17,257.1h0M639.53,235.28h0M642.35,221.83h0M676.64,282.05h0M665.09,264.17h0M682.72,285.21h0M694.34,214.81h0M684.34,217.58h0M696.14,260.41h0M650.58,251.54h0M648.39,213.66h0M658.33,210.36h0M694.81,249.33h0M668.33,322.34h0M655.69,305.16h0M670.31,223.49h0M630.45,217.79h0M681.07,228.61h0M658.12,227.49h0M701.97,297.2h0M681.76,313.6h0M667.67,217.53h0M660.13,200.02h0M682.33,270.07h0M650.92,292.72h0M652.48,216.58h0M674.89,265.32h0M652.77,222.08h0M699.18,280.88h0M685.04,264.93h0M663.69,230.23h0M686.12,229.16h0M658.29,233.81h0M719.46,261.85h0M690.24,251.5h0M658.66,203.7h0M647.04,319.43h0M659.66,225.22h0M712.54,282.93h0M704.22,217.75h0M680.27,217.39h0M655.47,248.08h0M632.06,262.32h0M689.08,245.17h0M719.99,247.86h0M653.05,242.16h0M656.12,299.37h0M658.44,287.33h0M714.74,251.04h0M712.76,240.17h0M719.68,256.55h0M655.5,229.48h0M696.8,221.93h0M681.85,293.05h0M648.68,249.67h0M681.53,290.19h0M663.95,232.28h0M669.97,303.54h0M655.14,244.22h0M672.56,267.18h0M625.63,230.8h0M681.45,288.8h0M666.98,230.03h0M695.77,322.21h0M673.27,240.74h0M639.57,227.45h0M677.23,279.57h0M714.1,257.92h0M714.53,280.84h0M633.79,236.48h0M650.75,319.2h0M665.93,219.67h0M685.37,230.4h0M628.86,279.33h0M670.4,216.23h0M660.97,262.96h0M693.28,262.75h0M716.01,250.99h0M689.2,227.87h0M638.41,289.87h0M688.05,285.66h0M643.6,259.25h0M668.93,322.51h0M674.09,263.18h0M687.51,273.43h0M634.74,217.71h0M672.1,315.27h0M669.96,205.97h0M690.45,275.01h0M676.16,279.2h0M638.56,297.55h0M677.51,288.47h0M677.05,278.87h0M657.46,278.19h0M652.22,241.13h0M704.01,236.23h0M636.09,243.41h0M630.99,240.85h0M713.82,290.34h0M656.6,211.39h0M661,174h0M675,174h0M670,365h0M655,195h0M660,200h0" stroke="#000" stroke-width="4" stroke-linecap="round" fill="none"/>
<path d="M824.9,299.68h0M853.91,256.53h0M862.42,307.05h0M810.24,288.62h0M870.99,255.62h0M792.3,239.05h0M821.92,280.82h0M810.77,254.95h0M838.07,285.61h0M869.38,271.13h0M821.71,267.09h0M801.09,260.39h0M808.94,284.61h0M819.12,274.87h0M817.63,276.49h0M817.8,337.55h0M764.2,271.47h0M789.13,230.35h0M814.29,250.93h0M803.5,323.44h0M825.56,241.42h0M786.3,275.38h0M863.36,301.55h0M764.24,279.84h0M853.93,314.62h0M787.5,245.33h0M803.75,321.31h0M858.57,286.68h0M838.19,251.11h0M861.58,239.76h0M778.22,300.25h0M824.96,245.67h0M816.07,283.54h0M799.26,227.81h0M835.52,295.91h0M776.61,256.77h0M796.28,253.78h0M815.08,258.19h0M842.32,320.72h0M870.5,263.72h0M795.63,231.66h0M853.06,229.73h0M846.9,259.15h0M846.71,296.99h0M824.13,316.18h0M813.6,291.09h0M824.48,258.85h0M860.94,321.99h0M826.33,283.9h0M827.78,287.01h0M791.11,290.47h0M806.52,255.04h0M802.89,245.31h0M869.36,320.13h0M774.5,263.2h0M826.46,248.02h0M859.76,244.68h0M832.57,285.33h0M853.26,310.21h0M820.84,259.68h0M840.02,281.47h0M799.83,273.76h0M831.01,265.55h0M764.13,251.71h0M778.67,323.17h0M852.2,248.84h0M785.56,301.32h0M786.52,243.86h0M859.26,310.86h0M827.66,218.27h0M848.9,277.59h0M786.74,230.93h0M767.47,306.89h0M784.06,333.32h0M816.22,244.58h0M801.42,269.36h0M813.58,317.24h0M796.86,281.81h0M818.22,245.72h0M829.38,292.48h0M794.99,323.42h0M849.15,265.76h0M860.05,292.79h0M820.09,262.24h0M859.08,250.13h0M847.31,268.65h0M786.43,245.56h0M850.44,278.21h0M854.17,277.84h0M848.5,285.92h0M808.36,292.23h0M799.05,289.1h0M833.8,251.37h0M784.18,221.59h0M807.25,221.18h0M774.57,312.51h0M829.24,327.11h0M823.03,240.51h0M796.38,290.01h0M785.72,287h0M789.8,250.32h0M867.4,296.27h0M846.62,267.48h0M851.18,276.88h0M824.81,312.49h0M778.42,245.11h0M855.76,269.51h0M787.99,288.1h0M788.61,297.03h0M840.89,317.19h0M835.77,308.02h0M790.01,341.91h0M831.42,228.86h0M816.63,280.31h0M837.27,273.06h0M794.44,340.7h0M815.86,266.49h0M856.74,294.7h0M808.38,304.4h0M857.48,296.1h0M863.29,252.71h0M819.14,318.19h0M789.91,283.9h0M800.07,277.28h0M855.74,238h0M850.62,297.1h0M843.15,343.88h0M867.79,279.69h0M801.81,249.23h0M826.48,296.67h0M786.82,223.76h0M863.66,317.12h0M838.72,284.49h0M764.76,275.09h0M797.3,270.83h0M790.07,302.65h0M797.17,264.96h0M794.11,239.68h0M811.89,248.53h0M852.51,257.58h0M825.07,235.57h0M824.06,295.38h0M799.29,308.63h0M821.4,279.09h0M805.53,247.01h0M851.38,263.69h0M833.21,300.14h0M826.81,320.79h0M772.69,263.13h0M808.23,287.7h0M809.78,218.67h0M826.73,292.42h0M849.32,225.28h0M793.93,272.94h0M832.4,230.38h0M838.67,300.38h0M837.17,245.58h0M781.21,301.61h0M786.2,240.09h0M805.4,287.56h0M827.85,264.73h0M811.94,272.83h0M797.85,302.28h0M849.95,291h0M845.28,290.31h0M805.78,297.65h0M835.43,282.89h0M800.94,292.37h0M789.39,264.48h0M803.94,275.13h0M834.25,240.27h0M810.43,279.89h0M800.24,291.84h0M835.21,264.03h0M830.14,233.42h0M779.88,297.24h0M840.84,307.78h0M867.94,270.25h0M863.29,298.85h0M801.8,259.06h0M842.41,270.98h0M818.73,294.8h0M846.27,261.61h0M840.81,249.41h0M788.92,220.14h0M787.94,240.19h0M831.39,293.11h0M841.78,324.19h0M767.64,314.1h0M835.68,215.88h0M825.98,312.38h0M864.28,336.16h0M817.63,238.09h0M779.73,313.18h0M855.29,287.7h0M836.83,284.14h0M843.77,279.54h0M819.85,309.96h0M798.48,251.87h0M770.86,268.07h0M836.23,232.9h0M827,273.92h0M842.35,253.24h0M783.03,307.17h0M817.75,242.83h0M779.22,237.6h0M836.17,244.7h0M797.59,316.69h0M800.5,315.27h0M838.64,299.86h0M794.4,240.04h0M827.03,279.91h0M800.01,246.19h0M786.76,231.13h0M853.04,320.91h0M781.18,264.37h0M798.8,256.55h0M775.72,279.44h0M826.68,312.82h0M838.17,218.32h0M819.73,254.06h0M826.61,294.72h0M824.07,230.13h0M813.02,244.34h0M870.88,300.53h0M807.38,327.83h0M835.34,299.04h0M831.57,291.78h0M772.58,243.37h0M816.94,317.3h0M842.61,334.27h0M769.04,295.44h0M822.34,236.6h0M807.93,314.24h0M829.85,235.78h0M814,203h0M819.5,382.5h0M829,371h0M838,353h0M802,347h0M776,341h0M858.5,335.5h0M815.5,344h0" stroke="#000" stroke-width="4" stroke-linecap="round" fill="none"/>
<rect x="581" y="77.6" width="327.7" height="358.1" fill="none" stroke="#000" stroke-width="3.3"/>
<line x1="571" y1="77.6" x2="581" y2="77.6" stroke="#000" stroke-width="3.3" stroke-linecap="butt" />
<line x1="571" y1="435.7" x2="581" y2="435.7" stroke="#000" stroke-width="3.3" stroke-linecap="butt" />
<line x1="571" y1="126.9" x2="581" y2="126.9" stroke="#000" stroke-width="3.4" stroke-linecap="butt" />
<text class="sf" transform="translate(565.2 134.4) scale(1 1.07)" font-size="20.9" text-anchor="end">0.4</text>
<line x1="571" y1="185.6" x2="581" y2="185.6" stroke="#000" stroke-width="3.4" stroke-linecap="butt" />
<text class="sf" transform="translate(565.2 193.1) scale(1 1.07)" font-size="20.9" text-anchor="end">0.2</text>
<line x1="571" y1="244.4" x2="581" y2="244.4" stroke="#000" stroke-width="3.4" stroke-linecap="butt" />
<text class="sf" transform="translate(565.2 251.9) scale(1 1.07)" font-size="20.9" text-anchor="end">0.0</text>
<line x1="571" y1="303.1" x2="581" y2="303.1" stroke="#000" stroke-width="3.4" stroke-linecap="butt" />
<text class="sf" transform="translate(565.2 310.6) scale(1 1.07)" font-size="20.9" text-anchor="end">−0.2</text>
<line x1="571" y1="362.1" x2="581" y2="362.1" stroke="#000" stroke-width="3.4" stroke-linecap="butt" />
<text class="sf" transform="translate(565.2 369.6) scale(1 1.07)" font-size="20.9" text-anchor="end">−0.4</text>
<line x1="571" y1="420.8" x2="581" y2="420.8" stroke="#000" stroke-width="3.4" stroke-linecap="butt" />
<text class="sf" transform="translate(565.2 428.3) scale(1 1.07)" font-size="20.9" text-anchor="end">−0.6</text>
<line x1="744.5" y1="435.7" x2="744.5" y2="446.2" stroke="#000" stroke-width="3.4" stroke-linecap="butt" />
<text class="sf" transform="translate(744.5 466.8) scale(1 1.07)" font-size="20.9" text-anchor="middle">Dysfunction</text>
<text class="sf" transform="translate(744.9 108.1) scale(1 1.07)" font-size="20.9" text-anchor="middle">1.1e-14</text>
<text class="sf" transform="translate(505.1 68.2) scale(1 1.04)" font-size="39" font-weight="bold">B</text>
<text class="sf" x="925.75" y="95.5" font-size="20.9">cluster</text>
<circle cx="936.35" cy="119.4" r="10.4" fill="#DC4B35"/>
<circle cx="936.35" cy="154.4" r="10.4" fill="#45B2CC"/>
<text class="sf" x="951.65" y="130.5" font-size="20.5">C1</text>
<text class="sf" x="951.65" y="165.3" font-size="20.5">C2</text>
<line x1="1094" y1="92.7" x2="1421.6" y2="92.7" stroke="#D4CFCB" stroke-width="1.5" stroke-linecap="butt" />
<line x1="1094" y1="146.9" x2="1421.6" y2="146.9" stroke="#D4CFCB" stroke-width="1.5" stroke-linecap="butt" />
<line x1="1094" y1="201.1" x2="1421.6" y2="201.1" stroke="#D4CFCB" stroke-width="1.5" stroke-linecap="butt" />
<line x1="1094" y1="255.4" x2="1421.6" y2="255.4" stroke="#D4CFCB" stroke-width="1.5" stroke-linecap="butt" />
<line x1="1094" y1="309.6" x2="1421.6" y2="309.6" stroke="#D4CFCB" stroke-width="1.5" stroke-linecap="butt" />
<line x1="1094" y1="363.8" x2="1421.6" y2="363.8" stroke="#D4CFCB" stroke-width="1.5" stroke-linecap="butt" />
<line x1="1094" y1="418.1" x2="1421.6" y2="418.1" stroke="#D4CFCB" stroke-width="1.5" stroke-linecap="butt" />
<line x1="1258" y1="77.6" x2="1258" y2="435.7" stroke="#D4CFCB" stroke-width="1.5" stroke-linecap="butt" />
<path d="M1184.15,135 L1184.15,138.19 L1184.14,141.38 L1184.13,144.56 L1184.11,147.75 L1184.09,150.94 L1184.02,154.13 L1183.91,157.32 L1183.78,160.51 L1183.63,163.69 L1183.46,166.88 L1183.26,170.07 L1183.05,173.26 L1182.81,176.45 L1182.49,179.63 L1181.97,182.82 L1181.41,186.01 L1180.85,189.2 L1180.29,192.39 L1179.73,195.58 L1179.15,198.76 L1178.54,201.95 L1177.85,205.14 L1177.04,208.33 L1176.12,211.52 L1175.07,214.71 L1173.98,217.89 L1172.85,221.08 L1171.67,224.27 L1170.45,227.46 L1169.19,230.65 L1167.89,233.83 L1166.6,237.02 L1165.32,240.21 L1164.03,243.4 L1162.77,246.59 L1161.59,249.78 L1160.48,252.96 L1159.42,256.15 L1158.43,259.34 L1157.53,262.53 L1156.76,265.72 L1156.15,268.9 L1155.71,272.09 L1155.43,275.28 L1155.3,278.47 L1155.3,281.66 L1155.3,284.85 L1155.41,288.03 L1155.63,291.22 L1156.04,294.41 L1156.48,297.6 L1156.88,300.79 L1157.3,303.97 L1157.74,307.16 L1158.04,310.35 L1158.25,313.54 L1158.33,316.73 L1158.37,319.92 L1158.48,323.1 L1158.72,326.29 L1158.95,329.48 L1159.21,332.67 L1159.59,335.86 L1160.14,339.04 L1160.8,342.23 L1161.61,345.42 L1162.58,348.61 L1163.71,351.8 L1164.95,354.99 L1166.31,358.17 L1167.84,361.36 L1169.47,364.55 L1171.07,367.74 L1172.66,370.93 L1174.24,374.12 L1175.8,377.3 L1177.39,380.49 L1178.88,383.68 L1180.18,386.87 L1181.28,390.06 L1182.17,393.24 L1182.89,396.43 L1183.49,399.62 L1183.84,402.81 L1184.04,406 L1184.14,409.19 L1184.15,412.37 L1184.15,415.56 L1184.15,418.75 L1184.85,418.75 L1184.85,415.56 L1184.85,412.37 L1184.86,409.19 L1184.96,406 L1185.16,402.81 L1185.51,399.62 L1186.11,396.43 L1186.83,393.24 L1187.72,390.06 L1188.82,386.87 L1190.12,383.68 L1191.61,380.49 L1193.2,377.3 L1194.76,374.12 L1196.34,370.93 L1197.93,367.74 L1199.53,364.55 L1201.16,361.36 L1202.69,358.17 L1204.05,354.99 L1205.29,351.8 L1206.42,348.61 L1207.39,345.42 L1208.2,342.23 L1208.86,339.04 L1209.41,335.86 L1209.79,332.67 L1210.05,329.48 L1210.28,326.29 L1210.52,323.1 L1210.63,319.92 L1210.67,316.73 L1210.75,313.54 L1210.96,310.35 L1211.26,307.16 L1211.7,303.97 L1212.12,300.79 L1212.52,297.6 L1212.96,294.41 L1213.37,291.22 L1213.59,288.03 L1213.7,284.85 L1213.7,281.66 L1213.7,278.47 L1213.57,275.28 L1213.29,272.09 L1212.85,268.9 L1212.24,265.72 L1211.47,262.53 L1210.57,259.34 L1209.58,256.15 L1208.52,252.96 L1207.41,249.78 L1206.23,246.59 L1204.97,243.4 L1203.68,240.21 L1202.4,237.02 L1201.11,233.83 L1199.81,230.65 L1198.55,227.46 L1197.33,224.27 L1196.15,221.08 L1195.02,217.89 L1193.93,214.71 L1192.88,211.52 L1191.96,208.33 L1191.15,205.14 L1190.46,201.95 L1189.85,198.76 L1189.27,195.58 L1188.71,192.39 L1188.15,189.2 L1187.59,186.01 L1187.03,182.82 L1186.51,179.63 L1186.19,176.45 L1185.95,173.26 L1185.74,170.07 L1185.54,166.88 L1185.37,163.69 L1185.22,160.51 L1185.09,157.32 L1184.98,154.13 L1184.91,150.94 L1184.89,147.75 L1184.87,144.56 L1184.86,141.38 L1184.85,138.19 L1184.85,135Z" fill="#E35525" fill-opacity="0.5" stroke="#DC4B35" stroke-width="1.6" stroke-linejoin="round"/>
<line x1="1184.5" y1="176" x2="1184.5" y2="268" stroke="#DC4B35" stroke-width="2.8" stroke-linecap="butt" />
<line x1="1184.5" y1="333" x2="1184.5" y2="378" stroke="#DC4B35" stroke-width="2.8" stroke-linecap="butt" />
<rect x="1181.6" y="268" width="5.8" height="65" fill="#DC4B35" fill-opacity="0.5" stroke="#DC4B35" stroke-width="3"/>
<line x1="1181.6" y1="300" x2="1187.4" y2="300" stroke="#DC4B35" stroke-width="2.4" stroke-linecap="butt" />
<path d="M1330.55,218.9 L1330.55,221.03 L1330.54,223.16 L1330.54,225.28 L1330.52,227.41 L1330.51,229.54 L1330.48,231.67 L1330.4,233.79 L1330.27,235.92 L1330.09,238.05 L1329.79,240.18 L1329.44,242.3 L1329.13,244.43 L1328.85,246.56 L1328.53,248.69 L1328.1,250.81 L1327.55,252.94 L1326.95,255.07 L1326.36,257.2 L1325.76,259.32 L1325.07,261.45 L1324.2,263.58 L1323.15,265.71 L1321.96,267.83 L1320.61,269.96 L1319.07,272.09 L1317.46,274.22 L1315.77,276.34 L1314,278.47 L1312.3,280.6 L1310.68,282.73 L1309.14,284.85 L1307.8,286.98 L1306.63,289.11 L1305.61,291.24 L1304.77,293.36 L1304.08,295.49 L1303.5,297.62 L1303,299.75 L1302.55,301.87 L1302.18,304 L1301.94,306.13 L1301.76,308.26 L1301.63,310.38 L1301.61,312.51 L1301.7,314.64 L1301.88,316.77 L1302.12,318.89 L1302.59,321.02 L1303.19,323.15 L1303.82,325.28 L1304.52,327.4 L1305.31,329.53 L1306.19,331.66 L1307.19,333.79 L1308.28,335.91 L1309.45,338.04 L1310.73,340.17 L1312.04,342.3 L1313.3,344.42 L1314.54,346.55 L1315.79,348.68 L1317.09,350.81 L1318.43,352.93 L1319.71,355.06 L1320.88,357.19 L1321.98,359.32 L1323.03,361.44 L1324.02,363.57 L1324.96,365.7 L1325.81,367.83 L1326.57,369.95 L1327.26,372.08 L1327.85,374.21 L1328.37,376.34 L1328.83,378.46 L1329.19,380.59 L1329.51,382.72 L1329.78,384.85 L1330,386.97 L1330.18,389.1 L1330.34,391.23 L1330.46,393.36 L1330.5,395.48 L1330.52,397.61 L1330.53,399.74 L1330.54,401.87 L1330.54,403.99 L1330.55,406.12 L1330.55,408.25 L1331.25,408.25 L1331.25,406.12 L1331.26,403.99 L1331.26,401.87 L1331.27,399.74 L1331.28,397.61 L1331.3,395.48 L1331.34,393.36 L1331.46,391.23 L1331.62,389.1 L1331.8,386.97 L1332.02,384.85 L1332.29,382.72 L1332.61,380.59 L1332.97,378.46 L1333.43,376.34 L1333.95,374.21 L1334.54,372.08 L1335.23,369.95 L1335.99,367.83 L1336.84,365.7 L1337.78,363.57 L1338.77,361.44 L1339.82,359.32 L1340.92,357.19 L1342.09,355.06 L1343.37,352.93 L1344.71,350.81 L1346.01,348.68 L1347.26,346.55 L1348.5,344.42 L1349.76,342.3 L1351.07,340.17 L1352.35,338.04 L1353.52,335.91 L1354.61,333.79 L1355.61,331.66 L1356.49,329.53 L1357.28,327.4 L1357.98,325.28 L1358.61,323.15 L1359.21,321.02 L1359.68,318.89 L1359.92,316.77 L1360.1,314.64 L1360.19,312.51 L1360.17,310.38 L1360.04,308.26 L1359.86,306.13 L1359.62,304 L1359.25,301.87 L1358.8,299.75 L1358.3,297.62 L1357.72,295.49 L1357.03,293.36 L1356.19,291.24 L1355.17,289.11 L1354,286.98 L1352.66,284.85 L1351.12,282.73 L1349.5,280.6 L1347.8,278.47 L1346.03,276.34 L1344.34,274.22 L1342.73,272.09 L1341.19,269.96 L1339.84,267.83 L1338.65,265.71 L1337.6,263.58 L1336.73,261.45 L1336.04,259.32 L1335.44,257.2 L1334.85,255.07 L1334.25,252.94 L1333.7,250.81 L1333.27,248.69 L1332.95,246.56 L1332.67,244.43 L1332.36,242.3 L1332.01,240.18 L1331.71,238.05 L1331.53,235.92 L1331.4,233.79 L1331.32,231.67 L1331.29,229.54 L1331.28,227.41 L1331.26,225.28 L1331.26,223.16 L1331.25,221.03 L1331.25,218.9Z" fill="#59B1CD" fill-opacity="0.5" stroke="#45B2CC" stroke-width="1.6" stroke-linejoin="round"/>
<line x1="1330.9" y1="247" x2="1330.9" y2="299.5" stroke="#45B2CC" stroke-width="2.8" stroke-linecap="butt" />
<line x1="1330.9" y1="334.5" x2="1330.9" y2="380" stroke="#45B2CC" stroke-width="2.8" stroke-linecap="butt" />
<rect x="1328" y="299.5" width="5.8" height="35" fill="#45B2CC" fill-opacity="0.5" stroke="#45B2CC" stroke-width="3"/>
<line x1="1328" y1="317" x2="1333.8" y2="317" stroke="#45B2CC" stroke-width="2.4" stroke-linecap="butt" />
<path d="M1174.21,207h0M1179.94,223.33h0M1187.92,312.93h0M1228.19,258.84h0M1228.06,300.34h0M1155.11,334.84h0M1171.56,211.75h0M1174.9,333.75h0M1189.96,314.95h0M1199.34,318.34h0M1180.16,366.64h0M1146.91,333.59h0M1186.84,224.45h0M1212.19,282.54h0M1140.16,304.87h0M1180.43,212.35h0M1215.29,238.66h0M1186.84,279.14h0M1193.07,290.42h0M1209.84,226.78h0M1152.45,317.49h0M1173.05,274.25h0M1185.54,320.91h0M1195.51,339.84h0M1214.99,264.31h0M1187.67,239.94h0M1189.51,215.75h0M1154.73,282.23h0M1185,299.44h0M1156.46,342.98h0M1207.71,235.58h0M1169.92,289.65h0M1175.93,295.34h0M1228.14,320.05h0M1183.7,215.05h0M1158.28,212.77h0M1138.72,276.79h0M1212.65,283.25h0M1148.91,323.53h0M1175.24,353.29h0M1173.42,316.52h0M1215.5,270.44h0M1200.86,353.33h0M1163.84,225.4h0M1170.72,273.64h0M1159.83,260.84h0M1177.98,248.36h0M1176.73,335.38h0M1180.4,283.62h0M1176.21,294.49h0M1185.98,294.89h0M1203.62,333.26h0M1173.07,247.22h0M1214.97,282.36h0M1165,278.9h0M1222.66,262.98h0M1152.05,286.5h0M1194.27,325.29h0M1149.3,308.77h0M1153.78,343.21h0M1165.08,253.55h0M1152.04,270.85h0M1173.56,303.83h0M1149.79,348.83h0M1176.81,355.55h0M1160.72,312.57h0M1199.29,264.61h0M1205.25,362.86h0M1227.75,259.84h0M1206.46,301.89h0M1149.34,294.54h0M1151.74,250.48h0M1183.26,303.06h0M1198.85,306.91h0M1204.71,295.68h0M1172,224.35h0M1182.7,254.62h0M1140.8,267.2h0M1161.01,219.18h0M1212.57,252.11h0M1204.9,213.01h0M1181.68,349.02h0M1209.09,290.14h0M1183.32,245.61h0M1188.49,303.26h0M1191.13,218.39h0M1170.27,303.43h0M1187.59,263.78h0M1170.7,326.38h0M1156.71,346.54h0M1167,307.48h0M1219.36,296.06h0M1168.76,262.95h0M1195.01,359.26h0M1178.81,296.86h0M1198.54,340.13h0M1203.83,322.68h0M1189.88,300.06h0M1181.68,304.8h0M1144.56,326.13h0M1191.37,284.21h0M1185.56,273.17h0M1196.2,258.41h0M1171.34,322.61h0M1192.72,309.45h0M1201.09,343.88h0M1189.1,317.84h0M1148.88,287.04h0M1162.47,331.64h0M1182.94,333.31h0M1203.74,312.28h0M1195.18,311.96h0M1168.58,350.68h0M1220.35,352.74h0M1162.5,249.4h0M1177.51,336.16h0M1188.88,213.63h0M1183.51,247.61h0M1172.7,302.36h0M1197.5,266.23h0M1201.99,288.2h0M1198.81,262.04h0M1204.15,271.47h0M1210.68,313.62h0M1185.2,309.37h0M1201.53,364.54h0M1202.95,291.72h0M1165.81,226.96h0M1179.14,288.78h0M1207.03,351.79h0M1211.65,358.1h0M1223.95,256.41h0M1204.37,301.53h0M1216.69,267.66h0M1186.3,262.05h0M1204.74,209.56h0M1188.86,278.12h0M1210.93,362.45h0M1200.01,245.85h0M1183.87,258.56h0M1181.7,323.87h0M1156.72,298.68h0M1153.76,313.33h0M1150.99,229.6h0M1168.96,293.03h0M1198.42,359.63h0M1216.86,307.62h0M1176.65,285.51h0M1171.56,283.9h0M1222.76,259.7h0M1168.08,337.31h0M1207.11,318.71h0M1199.17,318.52h0M1197.85,343.22h0M1140.84,334.26h0M1181.74,304.92h0M1168.28,272.11h0M1210.37,277.08h0M1150.96,237.53h0M1146.78,299.81h0M1155.31,223.5h0M1169.67,282.8h0M1148.39,255.42h0M1188.11,328.18h0M1201.91,365.08h0M1201.52,315.85h0M1175.9,259.39h0M1177.04,281.96h0M1176.93,338.83h0M1229.99,316.31h0M1189.04,338.26h0M1191.5,274.07h0M1177.07,240.98h0M1183.36,335.63h0M1170.46,322.01h0M1145.42,333.81h0M1205.58,283.68h0M1155.47,324.19h0M1214.01,309.21h0M1162.62,300.65h0M1199.2,214.96h0M1179.72,340.56h0M1156.66,333.79h0M1140.91,287.85h0M1165.39,219.26h0M1184,176h0M1172.5,177h0M1170,206h0M1194,199h0M1188,378h0M1204,372.5h0" stroke="#000" stroke-width="4" stroke-linecap="round" fill="none"/>
<path d="M1343,270.21h0M1351.84,338.35h0M1361.28,301.32h0M1285.77,283.38h0M1329.82,294.83h0M1363.05,322.26h0M1319.08,296.92h0M1354.97,348.14h0M1307.34,332.15h0M1331.93,327.51h0M1352.31,338.63h0M1291.19,270.83h0M1334.89,284.34h0M1275.54,302h0M1362.55,338.47h0M1324.52,366.03h0M1284.08,288.87h0M1374.32,315.31h0M1341.17,315.32h0M1356.48,288.19h0M1332.13,300.71h0M1337.41,359.56h0M1295.93,275.61h0M1340.99,303.47h0M1314.61,347.97h0M1334.61,318.71h0M1306.9,335.01h0M1375.6,306.63h0M1347.81,322.16h0M1325.63,313.94h0M1365.36,303.7h0M1327.89,299.06h0M1346.78,339.85h0M1344.27,291.2h0M1363.82,333.03h0M1321.89,298.93h0M1341.37,309.36h0M1334.47,308.69h0M1322.98,339.54h0M1337.45,298.62h0M1293.03,305.55h0M1326.65,274.9h0M1309.84,340.1h0M1294.01,336.01h0M1322.14,305.31h0M1377.18,336.47h0M1329.36,296.44h0M1289.25,300.16h0M1318.94,268.4h0M1292.21,266.63h0M1303.55,282.13h0M1346.9,282.55h0M1310.44,337.21h0M1324.91,306.33h0M1282.65,331.79h0M1289.03,345.29h0M1342.68,358.66h0M1346.51,338.31h0M1344.91,303.69h0M1332.72,325.19h0M1297.28,287.77h0M1306.4,310.12h0M1358.49,318.18h0M1304.52,321.08h0M1362.89,287.9h0M1363.55,285h0M1376.33,292.21h0M1330.27,277.36h0M1320.37,321.15h0M1323.01,316.63h0M1332.4,291.04h0M1369.26,315.15h0M1378.49,316.97h0M1371.28,343.15h0M1317.09,277.33h0M1336.47,296.7h0M1353.43,296.33h0M1297.35,282.86h0M1322.8,277.02h0M1334.57,312.52h0M1369.05,340.06h0M1329.6,303.43h0M1355.85,299.94h0M1297.09,317.03h0M1364.29,270.23h0M1351.25,307.66h0M1349.47,292.67h0M1367.38,284.05h0M1328.77,322.35h0M1311.72,335.92h0M1289.24,350.34h0M1342.71,285.46h0M1356.43,366.31h0M1308.84,279.17h0M1375.16,300.32h0M1348.18,287.14h0M1320.81,270.18h0M1370.27,335.22h0M1343.87,361.84h0M1322.14,290.21h0M1296.06,326.37h0M1303.34,270.56h0M1382.23,311.23h0M1311.14,334.05h0M1356.64,279.31h0M1319.58,352.97h0M1345.35,364.27h0M1363.54,307.36h0M1312.67,330.23h0M1345.95,338.72h0M1306.99,281.56h0M1358.73,264.75h0M1303.89,310.38h0M1351.27,347.51h0M1299.41,297.48h0M1284.9,346.47h0M1298.22,324.38h0M1366.88,326h0M1312.3,284.56h0M1358.21,327.52h0M1303.78,286.93h0M1346.15,314.75h0M1313.51,309.31h0M1318.01,315.67h0M1352.22,311.63h0M1352.89,324h0M1322.87,271.38h0M1357.61,337.57h0M1373.28,367.65h0M1339.61,350.9h0M1318.79,302.13h0M1327.72,274.48h0M1370.36,332.22h0M1327.87,292.57h0M1351.83,296.82h0M1320.63,326.27h0M1284.74,297.19h0M1340.84,277.23h0M1349.83,275.03h0M1348.8,305.79h0M1321.73,299.38h0M1359.07,284.65h0M1338.29,294.81h0M1296.58,308.07h0M1300.19,295.61h0M1293.22,286.19h0M1275.81,330.8h0M1373.59,288.93h0M1318.2,338.15h0M1363.95,275.22h0M1305.82,359.65h0M1346.09,289.71h0M1334.08,322.17h0M1297.44,299.9h0M1341.92,320.08h0M1359.29,366.43h0M1309.88,318.63h0M1383.27,311.9h0M1317.55,353.93h0M1294.74,329.84h0M1295.32,291.42h0M1335.64,341.8h0M1282.23,269.37h0M1333.36,294.03h0M1282.21,299h0M1343.08,286.68h0M1294.97,308.44h0M1337.19,316.57h0M1345.89,297.05h0M1303,360.65h0M1332.21,342.67h0M1323.97,333.23h0M1320.27,276.05h0M1292.69,273.02h0M1312.85,317.34h0M1350.77,367.17h0M1355.95,334.84h0M1278.82,320.16h0M1336.47,312.13h0M1360.94,342.68h0M1371.9,335.57h0M1287,307.17h0M1326.79,331.76h0M1298.42,336.8h0M1349.53,353.94h0M1333.31,291.28h0M1318.53,294.15h0M1306.9,282.29h0M1303.11,341.8h0M1352.14,289.35h0M1301.74,354.76h0M1325.97,361.47h0M1320.34,337.12h0M1303.72,280.53h0M1320,294.53h0M1320.12,296.85h0M1329.7,341.71h0M1310.15,309.81h0M1340.81,329.45h0M1341.62,305.45h0M1320.07,281.5h0M1374,301.05h0M1345.88,328.26h0M1278.45,342.13h0M1359.06,311h0M1288.25,335.58h0M1350.8,354.77h0M1345.44,322.21h0M1359.33,338.9h0M1356.4,299.01h0M1322,247h0M1335,247.5h0M1347.5,246.5h0M1300,259h0M1308,258h0M1368.5,262h0M1321,381h0M1328,376h0" stroke="#000" stroke-width="4" stroke-linecap="round" fill="none"/>
<rect x="1094" y="77.6" width="327.6" height="358.1" fill="none" stroke="#000" stroke-width="3.3"/>
<line x1="1084" y1="77.6" x2="1094" y2="77.6" stroke="#000" stroke-width="3.3" stroke-linecap="butt" />
<line x1="1084" y1="435.7" x2="1094" y2="435.7" stroke="#000" stroke-width="3.3" stroke-linecap="butt" />
<line x1="1084" y1="92.7" x2="1094" y2="92.7" stroke="#000" stroke-width="3.4" stroke-linecap="butt" />
<text class="sf" transform="translate(1078.4 100.2) scale(1 1.07)" font-size="20.9" text-anchor="end">2.5</text>
<line x1="1084" y1="146.9" x2="1094" y2="146.9" stroke="#000" stroke-width="3.4" stroke-linecap="butt" />
<text class="sf" transform="translate(1078.4 154.4) scale(1 1.07)" font-size="20.9" text-anchor="end">2.0</text>
<line x1="1084" y1="201.1" x2="1094" y2="201.1" stroke="#000" stroke-width="3.4" stroke-linecap="butt" />
<text class="sf" transform="translate(1078.4 208.6) scale(1 1.07)" font-size="20.9" text-anchor="end">1.5</text>
<line x1="1084" y1="255.4" x2="1094" y2="255.4" stroke="#000" stroke-width="3.4" stroke-linecap="butt" />
<text class="sf" transform="translate(1078.4 262.9) scale(1 1.07)" font-size="20.9" text-anchor="end">1.0</text>
<line x1="1084" y1="309.6" x2="1094" y2="309.6" stroke="#000" stroke-width="3.4" stroke-linecap="butt" />
<text class="sf" transform="translate(1078.4 317.1) scale(1 1.07)" font-size="20.9" text-anchor="end">0.5</text>
<line x1="1084" y1="363.8" x2="1094" y2="363.8" stroke="#000" stroke-width="3.4" stroke-linecap="butt" />
<text class="sf" transform="translate(1078.4 371.3) scale(1 1.07)" font-size="20.9" text-anchor="end">0.0</text>
<line x1="1084" y1="418.1" x2="1094" y2="418.1" stroke="#000" stroke-width="3.4" stroke-linecap="butt" />
<text class="sf" transform="translate(1078.4 425.6) scale(1 1.07)" font-size="20.9" text-anchor="end">−0.5</text>
<line x1="1258" y1="435.7" x2="1258" y2="446.2" stroke="#000" stroke-width="3.4" stroke-linecap="butt" />
<text class="sf" transform="translate(1258 466.8) scale(1 1.07)" font-size="20.9" text-anchor="middle">Exclusion</text>
<text class="sf" transform="translate(1258 108.1) scale(1 1.07)" font-size="20.9" text-anchor="middle">4.6e-6</text>
<text class="sf" transform="translate(1001.6 68.2) scale(1 1.04)" font-size="40" font-weight="bold">C</text>
<text class="sf" x="1439.25" y="95.5" font-size="20.9">cluster</text>
<circle cx="1449.85" cy="119.4" r="10.4" fill="#DC4B35"/>
<circle cx="1449.85" cy="154.4" r="10.4" fill="#45B2CC"/>
<text class="sf" x="1465.15" y="130.5" font-size="20.5">C1</text>
<text class="sf" x="1465.15" y="165.3" font-size="20.5">C2</text>
<line x1="1596.25" y1="55.5" x2="1596.25" y2="508.25" stroke="#000" stroke-width="3" stroke-linecap="butt" />
<line x1="1594.75" y1="506.75" x2="2004" y2="506.75" stroke="#000" stroke-width="3" stroke-linecap="butt" />
<line x1="1590.95" y1="106" x2="1596.25" y2="106" stroke="#000" stroke-width="3" stroke-linecap="butt" />
<text class="ss" x="1588" y="113.4" font-size="19" text-anchor="end">6</text>
<line x1="1590.95" y1="185.5" x2="1596.25" y2="185.5" stroke="#000" stroke-width="3" stroke-linecap="butt" />
<text class="ss" x="1588" y="192.9" font-size="19" text-anchor="end">5</text>
<line x1="1590.95" y1="265" x2="1596.25" y2="265" stroke="#000" stroke-width="3" stroke-linecap="butt" />
<text class="ss" x="1588" y="272.4" font-size="19" text-anchor="end">4</text>
<line x1="1590.95" y1="344.5" x2="1596.25" y2="344.5" stroke="#000" stroke-width="3" stroke-linecap="butt" />
<text class="ss" x="1588" y="351.9" font-size="19" text-anchor="end">3</text>
<line x1="1590.95" y1="424" x2="1596.25" y2="424" stroke="#000" stroke-width="3" stroke-linecap="butt" />
<text class="ss" x="1588" y="431.4" font-size="19" text-anchor="end">2</text>
<line x1="1590.95" y1="503.5" x2="1596.25" y2="503.5" stroke="#000" stroke-width="3" stroke-linecap="butt" />
<text class="ss" x="1588" y="510.9" font-size="19" text-anchor="end">1</text>
<line x1="1707" y1="506.75" x2="1707" y2="511.55" stroke="#000" stroke-width="3" stroke-linecap="butt" />
<text class="ss" x="1707" y="530.55" font-size="19.3" text-anchor="middle">C1</text>
<line x1="1892.75" y1="506.75" x2="1892.75" y2="511.55" stroke="#000" stroke-width="3" stroke-linecap="butt" />
<text class="ss" x="1892.75" y="530.55" font-size="19.3" text-anchor="middle">C2</text>
<text class="ss" x="1799.88" y="553.55" font-size="19.6" text-anchor="middle">cluster</text>
<text class="ss" transform="translate(1567.7 281.12) rotate(-90)" font-size="19.6" text-anchor="middle">5−Fluorouracil senstivity (IC50)</text>
<text class="sf" transform="translate(1518.6 68.2) scale(1 1.04)" font-size="39" font-weight="bold">D</text>
<path d="M1707,87.75V75.25H1892.75V87.75" fill="none" stroke="#000" stroke-width="1.6"/>
<text class="ss" x="1799.88" y="71.25" font-size="18.1" text-anchor="middle">2.3e−11</text>
<line x1="1707.25" y1="145.75" x2="1707.25" y2="236.1" stroke="#000" stroke-width="3" stroke-linecap="butt" />
<line x1="1707.25" y1="307.4" x2="1707.25" y2="398.75" stroke="#000" stroke-width="3" stroke-linecap="butt" />
<rect x="1642.35" y="236.1" width="129.8" height="71.3" fill="#9BCF88" stroke="#000" stroke-width="3.3" stroke-linejoin="round"/>
<line x1="1642.35" y1="267.5" x2="1772.15" y2="267.5" stroke="#000" stroke-width="6.8" stroke-linecap="butt" />
<circle cx="1707.25" cy="95.25" r="4.4" fill="#000"/>
<circle cx="1707.25" cy="431.5" r="4.4" fill="#000"/>
<circle cx="1707.25" cy="452" r="4.4" fill="#000"/>
<circle cx="1707.25" cy="485.5" r="4.4" fill="#000"/>
<line x1="1892.75" y1="183.75" x2="1892.75" y2="279.1" stroke="#000" stroke-width="3" stroke-linecap="butt" />
<line x1="1892.75" y1="355.4" x2="1892.75" y2="461.75" stroke="#000" stroke-width="3" stroke-linecap="butt" />
<rect x="1827.85" y="279.1" width="129.8" height="76.3" fill="#F5A51F" stroke="#000" stroke-width="3.3" stroke-linejoin="round"/>
<line x1="1827.85" y1="314.25" x2="1957.65" y2="314.25" stroke="#000" stroke-width="6.8" stroke-linecap="butt" />
<circle cx="1892.75" cy="148.5" r="4.4" fill="#000"/>
<circle cx="1892.75" cy="158.75" r="4.4" fill="#000"/>
<circle cx="1892.75" cy="164.25" r="4.4" fill="#000"/>
<circle cx="1892.75" cy="480" r="4.4" fill="#000"/>
<text class="ss" x="1702.5" y="22.9" font-size="19.6">cluster</text>
<line x1="1783.9" y1="4.2" x2="1783.9" y2="27.2" stroke="#000" stroke-width="3" stroke-linecap="round" />
<rect x="1773.35" y="8.65" width="21.1" height="14.4" fill="#9BCF88" stroke="#000" stroke-width="3.5" stroke-linejoin="round"/>
<line x1="1773.4" y1="15.9" x2="1794.4" y2="15.9" stroke="#000" stroke-width="3.5" stroke-linecap="butt" />
<text class="ss" transform="translate(1808.1 21.6) scale(1 1.1)" font-size="14.9">C1</text>
<line x1="1852.5" y1="4.2" x2="1852.5" y2="27.2" stroke="#000" stroke-width="3" stroke-linecap="round" />
<rect x="1841.95" y="8.65" width="21.1" height="14.4" fill="#F5A51F" stroke="#000" stroke-width="3.5" stroke-linejoin="round"/>
<line x1="1842" y1="15.9" x2="1863" y2="15.9" stroke="#000" stroke-width="3.5" stroke-linecap="butt" />
<text class="ss" transform="translate(1876.7 21.6) scale(1 1.1)" font-size="14.9">C2</text>
<line x1="74.5" y1="670" x2="74.5" y2="1122" stroke="#000" stroke-width="3" stroke-linecap="butt" />
<line x1="73" y1="1120.5" x2="481.5" y2="1120.5" stroke="#000" stroke-width="3" stroke-linecap="butt" />
<line x1="69.2" y1="820.5" x2="74.5" y2="820.5" stroke="#000" stroke-width="3" stroke-linecap="butt" />
<text class="ss" x="66" y="827.9" font-size="19" text-anchor="end">4</text>
<line x1="69.2" y1="991.75" x2="74.5" y2="991.75" stroke="#000" stroke-width="3" stroke-linecap="butt" />
<text class="ss" x="66" y="999.15" font-size="19" text-anchor="end">3</text>
<line x1="185.75" y1="1120.5" x2="185.75" y2="1125.3" stroke="#000" stroke-width="3" stroke-linecap="butt" />
<text class="ss" x="185.75" y="1144.3" font-size="19.3" text-anchor="middle">C1</text>
<line x1="371.75" y1="1120.5" x2="371.75" y2="1125.3" stroke="#000" stroke-width="3" stroke-linecap="butt" />
<text class="ss" x="371.75" y="1144.3" font-size="19.3" text-anchor="middle">C2</text>
<text class="ss" x="278.75" y="1167.3" font-size="19.6" text-anchor="middle">cluster</text>
<text class="ss" transform="translate(46.5 895.25) rotate(-90)" font-size="19.6" text-anchor="middle">Cisplatin senstivity (IC50)</text>
<text class="sf" transform="translate(2.1 667.4) scale(1 1.04)" font-size="39" font-weight="bold">E</text>
<path d="M185.75,702.75V690.25H371.75V702.75" fill="none" stroke="#000" stroke-width="1.6"/>
<text class="ss" x="278.75" y="685.75" font-size="18.1" text-anchor="middle">0.0016</text>
<line x1="186" y1="793" x2="186" y2="895.9" stroke="#000" stroke-width="3" stroke-linecap="butt" />
<line x1="186" y1="981.4" x2="186" y2="1082.5" stroke="#000" stroke-width="3" stroke-linecap="butt" />
<rect x="121.1" y="895.9" width="129.8" height="85.5" fill="#9BCF88" stroke="#000" stroke-width="3.3" stroke-linejoin="round"/>
<line x1="121.1" y1="931.75" x2="250.9" y2="931.75" stroke="#000" stroke-width="6.8" stroke-linecap="butt" />
<line x1="371.5" y1="733" x2="371.5" y2="864.6" stroke="#000" stroke-width="3" stroke-linecap="butt" />
<line x1="371.5" y1="957.6" x2="371.5" y2="1077.5" stroke="#000" stroke-width="3" stroke-linecap="butt" />
<rect x="306.6" y="864.6" width="129.8" height="93" fill="#F5A51F" stroke="#000" stroke-width="3.3" stroke-linejoin="round"/>
<line x1="306.6" y1="915.5" x2="436.4" y2="915.5" stroke="#000" stroke-width="6.8" stroke-linecap="butt" />
<circle cx="371.5" cy="709.6" r="4.4" fill="#000"/>
<circle cx="371.5" cy="715.8" r="4.4" fill="#000"/>
<circle cx="371.5" cy="719.6" r="4.4" fill="#000"/>
<circle cx="371.5" cy="1100.25" r="4.4" fill="#000"/>
<text class="ss" x="181.25" y="633.3" font-size="19.6">cluster</text>
<line x1="262.65" y1="614.6" x2="262.65" y2="637.6" stroke="#000" stroke-width="3" stroke-linecap="round" />
<rect x="252.1" y="619.05" width="21.1" height="14.4" fill="#9BCF88" stroke="#000" stroke-width="3.5" stroke-linejoin="round"/>
<line x1="252.15" y1="626.3" x2="273.15" y2="626.3" stroke="#000" stroke-width="3.5" stroke-linecap="butt" />
<text class="ss" transform="translate(286.85 632) scale(1 1.1)" font-size="14.9">C1</text>
<line x1="331.25" y1="614.6" x2="331.25" y2="637.6" stroke="#000" stroke-width="3" stroke-linecap="round" />
<rect x="320.7" y="619.05" width="21.1" height="14.4" fill="#F5A51F" stroke="#000" stroke-width="3.5" stroke-linejoin="round"/>
<line x1="320.75" y1="626.3" x2="341.75" y2="626.3" stroke="#000" stroke-width="3.5" stroke-linecap="butt" />
<text class="ss" transform="translate(355.45 632) scale(1 1.1)" font-size="14.9">C2</text>
<line x1="586.75" y1="670" x2="586.75" y2="1122" stroke="#000" stroke-width="3" stroke-linecap="butt" />
<line x1="585.25" y1="1120.5" x2="983.5" y2="1120.5" stroke="#000" stroke-width="3" stroke-linecap="butt" />
<line x1="581.45" y1="675.75" x2="586.75" y2="675.75" stroke="#000" stroke-width="3" stroke-linecap="butt" />
<text class="ss" x="577.8" y="683.15" font-size="19" text-anchor="end">−3</text>
<line x1="581.45" y1="775.25" x2="586.75" y2="775.25" stroke="#000" stroke-width="3" stroke-linecap="butt" />
<text class="ss" x="577.8" y="782.65" font-size="19" text-anchor="end">−4</text>
<line x1="581.45" y1="875" x2="586.75" y2="875" stroke="#000" stroke-width="3" stroke-linecap="butt" />
<text class="ss" x="577.8" y="882.4" font-size="19" text-anchor="end">−5</text>
<line x1="581.45" y1="973.75" x2="586.75" y2="973.75" stroke="#000" stroke-width="3" stroke-linecap="butt" />
<text class="ss" x="577.8" y="981.15" font-size="19" text-anchor="end">−6</text>
<line x1="581.45" y1="1073.25" x2="586.75" y2="1073.25" stroke="#000" stroke-width="3" stroke-linecap="butt" />
<text class="ss" x="577.8" y="1080.65" font-size="19" text-anchor="end">−7</text>
<line x1="695" y1="1120.5" x2="695" y2="1125.3" stroke="#000" stroke-width="3" stroke-linecap="butt" />
<text class="ss" x="695" y="1144.3" font-size="19.3" text-anchor="middle">C1</text>
<line x1="875" y1="1120.5" x2="875" y2="1125.3" stroke="#000" stroke-width="3" stroke-linecap="butt" />
<text class="ss" x="875" y="1144.3" font-size="19.3" text-anchor="middle">C2</text>
<text class="ss" x="785" y="1167.3" font-size="19.6" text-anchor="middle">cluster</text>
<text class="ss" transform="translate(546.5 895.25) rotate(-90)" font-size="19.6" text-anchor="middle">Docetaxel senstivity (IC50)</text>
<text class="sf" transform="translate(502.85 667.4) scale(1 1.04)" font-size="39" font-weight="bold">F</text>
<path d="M695,702.75V690.25H875V702.75" fill="none" stroke="#000" stroke-width="1.6"/>
<text class="ss" x="785" y="685.75" font-size="18.1" text-anchor="middle">0.0045</text>
<line x1="694.9" y1="748" x2="694.9" y2="827.1" stroke="#000" stroke-width="3" stroke-linecap="butt" />
<line x1="694.9" y1="900.6" x2="694.9" y2="968.5" stroke="#000" stroke-width="3" stroke-linecap="butt" />
<rect x="632.15" y="827.1" width="125.5" height="73.5" fill="#9BCF88" stroke="#000" stroke-width="3.3" stroke-linejoin="round"/>
<line x1="632.15" y1="866.75" x2="757.65" y2="866.75" stroke="#000" stroke-width="6.8" stroke-linecap="butt" />
<circle cx="694.9" cy="1020.5" r="4.4" fill="#000"/>
<circle cx="694.9" cy="1060.25" r="4.4" fill="#000"/>
<line x1="875.1" y1="732" x2="875.1" y2="840.4" stroke="#000" stroke-width="3" stroke-linecap="butt" />
<line x1="875.1" y1="913.4" x2="875.1" y2="1017.5" stroke="#000" stroke-width="3" stroke-linecap="butt" />
<rect x="812.35" y="840.4" width="125.5" height="73" fill="#F5A51F" stroke="#000" stroke-width="3.3" stroke-linejoin="round"/>
<line x1="812.35" y1="881.5" x2="937.85" y2="881.5" stroke="#000" stroke-width="6.8" stroke-linecap="butt" />
<circle cx="875.1" cy="710" r="4.4" fill="#000"/>
<circle cx="875.1" cy="722" r="4.4" fill="#000"/>
<circle cx="875.1" cy="1038.5" r="4.4" fill="#000"/>
<circle cx="875.1" cy="1100.25" r="4.4" fill="#000"/>
<text class="ss" x="687.5" y="633.3" font-size="19.6">cluster</text>
<line x1="768.9" y1="614.6" x2="768.9" y2="637.6" stroke="#000" stroke-width="3" stroke-linecap="round" />
<rect x="758.35" y="619.05" width="21.1" height="14.4" fill="#9BCF88" stroke="#000" stroke-width="3.5" stroke-linejoin="round"/>
<line x1="758.4" y1="626.3" x2="779.4" y2="626.3" stroke="#000" stroke-width="3.5" stroke-linecap="butt" />
<text class="ss" transform="translate(793.1 632) scale(1 1.1)" font-size="14.9">C1</text>
<line x1="837.5" y1="614.6" x2="837.5" y2="637.6" stroke="#000" stroke-width="3" stroke-linecap="round" />
<rect x="826.95" y="619.05" width="21.1" height="14.4" fill="#F5A51F" stroke="#000" stroke-width="3.5" stroke-linejoin="round"/>
<line x1="827" y1="626.3" x2="848" y2="626.3" stroke="#000" stroke-width="3.5" stroke-linecap="butt" />
<text class="ss" transform="translate(861.7 632) scale(1 1.1)" font-size="14.9">C2</text>
<line x1="1092" y1="670" x2="1092" y2="1122" stroke="#000" stroke-width="3" stroke-linecap="butt" />
<line x1="1090.5" y1="1120.5" x2="1489" y2="1120.5" stroke="#000" stroke-width="3" stroke-linecap="butt" />
<line x1="1086.7" y1="719.5" x2="1092" y2="719.5" stroke="#000" stroke-width="3" stroke-linecap="butt" />
<text class="ss" x="1083" y="726.9" font-size="19" text-anchor="end">1</text>
<line x1="1086.7" y1="823" x2="1092" y2="823" stroke="#000" stroke-width="3" stroke-linecap="butt" />
<text class="ss" x="1083" y="830.4" font-size="19" text-anchor="end">0</text>
<line x1="1086.7" y1="926.75" x2="1092" y2="926.75" stroke="#000" stroke-width="3" stroke-linecap="butt" />
<text class="ss" x="1083" y="934.15" font-size="19" text-anchor="end">−1</text>
<line x1="1086.7" y1="1030.5" x2="1092" y2="1030.5" stroke="#000" stroke-width="3" stroke-linecap="butt" />
<text class="ss" x="1083" y="1037.9" font-size="19" text-anchor="end">−2</text>
<line x1="1200" y1="1120.5" x2="1200" y2="1125.3" stroke="#000" stroke-width="3" stroke-linecap="butt" />
<text class="ss" x="1200" y="1144.3" font-size="19.3" text-anchor="middle">C1</text>
<line x1="1380.5" y1="1120.5" x2="1380.5" y2="1125.3" stroke="#000" stroke-width="3" stroke-linecap="butt" />
<text class="ss" x="1380.5" y="1144.3" font-size="19.3" text-anchor="middle">C2</text>
<text class="ss" x="1290.25" y="1167.3" font-size="19.6" text-anchor="middle">cluster</text>
<text class="ss" transform="translate(1052.2 895.25) rotate(-90)" font-size="19.6" text-anchor="middle">Mitomycin C senstivity (IC50)</text>
<text class="sf" transform="translate(1006.6 667.4) scale(1 1.04)" font-size="40" font-weight="bold">G</text>
<path d="M1200,702.75V690.25H1380.5V702.75" fill="none" stroke="#000" stroke-width="1.6"/>
<text class="ss" x="1290.25" y="685.75" font-size="18.1" text-anchor="middle">p &lt; 2.22e−16</text>
<line x1="1200.4" y1="709.5" x2="1200.4" y2="827.1" stroke="#000" stroke-width="3" stroke-linecap="butt" />
<line x1="1200.4" y1="909.6" x2="1200.4" y2="1016" stroke="#000" stroke-width="3" stroke-linecap="butt" />
<rect x="1137.4" y="827.1" width="126" height="82.5" fill="#9BCF88" stroke="#000" stroke-width="3.3" stroke-linejoin="round"/>
<line x1="1137.4" y1="883" x2="1263.4" y2="883" stroke="#000" stroke-width="6.8" stroke-linecap="butt" />
<circle cx="1200.4" cy="1045" r="4.4" fill="#000"/>
<circle cx="1200.4" cy="1049.5" r="4.4" fill="#000"/>
<line x1="1380.4" y1="810.5" x2="1380.4" y2="900.9" stroke="#000" stroke-width="3" stroke-linecap="butt" />
<line x1="1380.4" y1="975.6" x2="1380.4" y2="1079.75" stroke="#000" stroke-width="3" stroke-linecap="butt" />
<rect x="1317.4" y="900.9" width="126" height="74.7" fill="#F5A51F" stroke="#000" stroke-width="3.3" stroke-linejoin="round"/>
<line x1="1317.4" y1="940" x2="1443.4" y2="940" stroke="#000" stroke-width="6.8" stroke-linecap="butt" />
<circle cx="1380.4" cy="748.75" r="4.4" fill="#000"/>
<circle cx="1380.4" cy="786.75" r="4.4" fill="#000"/>
<circle cx="1380.4" cy="1100.25" r="4.4" fill="#000"/>
<text class="ss" x="1193.25" y="633.3" font-size="19.6">cluster</text>
<line x1="1274.65" y1="614.6" x2="1274.65" y2="637.6" stroke="#000" stroke-width="3" stroke-linecap="round" />
<rect x="1264.1" y="619.05" width="21.1" height="14.4" fill="#9BCF88" stroke="#000" stroke-width="3.5" stroke-linejoin="round"/>
<line x1="1264.15" y1="626.3" x2="1285.15" y2="626.3" stroke="#000" stroke-width="3.5" stroke-linecap="butt" />
<text class="ss" transform="translate(1298.85 632) scale(1 1.1)" font-size="14.9">C1</text>
<line x1="1343.25" y1="614.6" x2="1343.25" y2="637.6" stroke="#000" stroke-width="3" stroke-linecap="round" />
<rect x="1332.7" y="619.05" width="21.1" height="14.4" fill="#F5A51F" stroke="#000" stroke-width="3.5" stroke-linejoin="round"/>
<line x1="1332.75" y1="626.3" x2="1353.75" y2="626.3" stroke="#000" stroke-width="3.5" stroke-linecap="butt" />
<text class="ss" transform="translate(1367.45 632) scale(1 1.1)" font-size="14.9">C2</text>
<line x1="1603" y1="670" x2="1603" y2="1122" stroke="#000" stroke-width="3" stroke-linecap="butt" />
<line x1="1601.5" y1="1120.5" x2="1999.5" y2="1120.5" stroke="#000" stroke-width="3" stroke-linecap="butt" />
<line x1="1597.7" y1="755.25" x2="1603" y2="755.25" stroke="#000" stroke-width="3" stroke-linecap="butt" />
<text class="ss" x="1594" y="762.65" font-size="19" text-anchor="end">−2</text>
<line x1="1597.7" y1="863.75" x2="1603" y2="863.75" stroke="#000" stroke-width="3" stroke-linecap="butt" />
<text class="ss" x="1594" y="871.15" font-size="19" text-anchor="end">−3</text>
<line x1="1597.7" y1="971.75" x2="1603" y2="971.75" stroke="#000" stroke-width="3" stroke-linecap="butt" />
<text class="ss" x="1594" y="979.15" font-size="19" text-anchor="end">−4</text>
<line x1="1597.7" y1="1079.25" x2="1603" y2="1079.25" stroke="#000" stroke-width="3" stroke-linecap="butt" />
<text class="ss" x="1594" y="1086.65" font-size="19" text-anchor="end">−5</text>
<line x1="1710.5" y1="1120.5" x2="1710.5" y2="1125.3" stroke="#000" stroke-width="3" stroke-linecap="butt" />
<text class="ss" x="1710.5" y="1144.3" font-size="19.3" text-anchor="middle">C1</text>
<line x1="1891.25" y1="1120.5" x2="1891.25" y2="1125.3" stroke="#000" stroke-width="3" stroke-linecap="butt" />
<text class="ss" x="1891.25" y="1144.3" font-size="19.3" text-anchor="middle">C2</text>
<text class="ss" x="1800.88" y="1167.3" font-size="19.6" text-anchor="middle">cluster</text>
<text class="ss" transform="translate(1562.7 895.25) rotate(-90)" font-size="19.6" text-anchor="middle">Paclitaxel senstivity (IC50)</text>
<text class="sf" transform="translate(1512.85 667.4) scale(1 1.04)" font-size="39" font-weight="bold">H</text>
<path d="M1710.5,702.75V690.25H1891.25V702.75" fill="none" stroke="#000" stroke-width="1.6"/>
<text class="ss" x="1800.88" y="685.75" font-size="18.1" text-anchor="middle">7.8e−10</text>
<line x1="1710.9" y1="766.25" x2="1710.9" y2="855.4" stroke="#000" stroke-width="3" stroke-linecap="butt" />
<line x1="1710.9" y1="922.1" x2="1710.9" y2="1003.75" stroke="#000" stroke-width="3" stroke-linecap="butt" />
<rect x="1647.9" y="855.4" width="126" height="66.7" fill="#9BCF88" stroke="#000" stroke-width="3.3" stroke-linejoin="round"/>
<line x1="1647.9" y1="895" x2="1773.9" y2="895" stroke="#000" stroke-width="6.8" stroke-linecap="butt" />
<line x1="1891" y1="827" x2="1891" y2="895.4" stroke="#000" stroke-width="3" stroke-linecap="butt" />
<line x1="1891" y1="945.6" x2="1891" y2="1016" stroke="#000" stroke-width="3" stroke-linecap="butt" />
<rect x="1828" y="895.4" width="126" height="50.2" fill="#F5A51F" stroke="#000" stroke-width="3.3" stroke-linejoin="round"/>
<line x1="1828" y1="920.5" x2="1954" y2="920.5" stroke="#000" stroke-width="6.8" stroke-linecap="butt" />
<circle cx="1891" cy="710" r="4.4" fill="#000"/>
<circle cx="1891" cy="800.6" r="4.4" fill="#000"/>
<circle cx="1891" cy="808.2" r="4.4" fill="#000"/>
<circle cx="1891" cy="814.7" r="4.4" fill="#000"/>
<circle cx="1891" cy="1032.25" r="4.4" fill="#000"/>
<circle cx="1891" cy="1100.25" r="4.4" fill="#000"/>
<text class="ss" x="1703.25" y="633.3" font-size="19.6">cluster</text>
<line x1="1784.65" y1="614.6" x2="1784.65" y2="637.6" stroke="#000" stroke-width="3" stroke-linecap="round" />
<rect x="1774.1" y="619.05" width="21.1" height="14.4" fill="#9BCF88" stroke="#000" stroke-width="3.5" stroke-linejoin="round"/>
<line x1="1774.15" y1="626.3" x2="1795.15" y2="626.3" stroke="#000" stroke-width="3.5" stroke-linecap="butt" />
<text class="ss" transform="translate(1808.85 632) scale(1 1.1)" font-size="14.9">C1</text>
<line x1="1853.25" y1="614.6" x2="1853.25" y2="637.6" stroke="#000" stroke-width="3" stroke-linecap="round" />
<rect x="1842.7" y="619.05" width="21.1" height="14.4" fill="#F5A51F" stroke="#000" stroke-width="3.5" stroke-linejoin="round"/>
<line x1="1842.75" y1="626.3" x2="1863.75" y2="626.3" stroke="#000" stroke-width="3.5" stroke-linecap="butt" />
<text class="ss" transform="translate(1877.45 632) scale(1 1.1)" font-size="14.9">C2</text>
</svg>
</body></html>
